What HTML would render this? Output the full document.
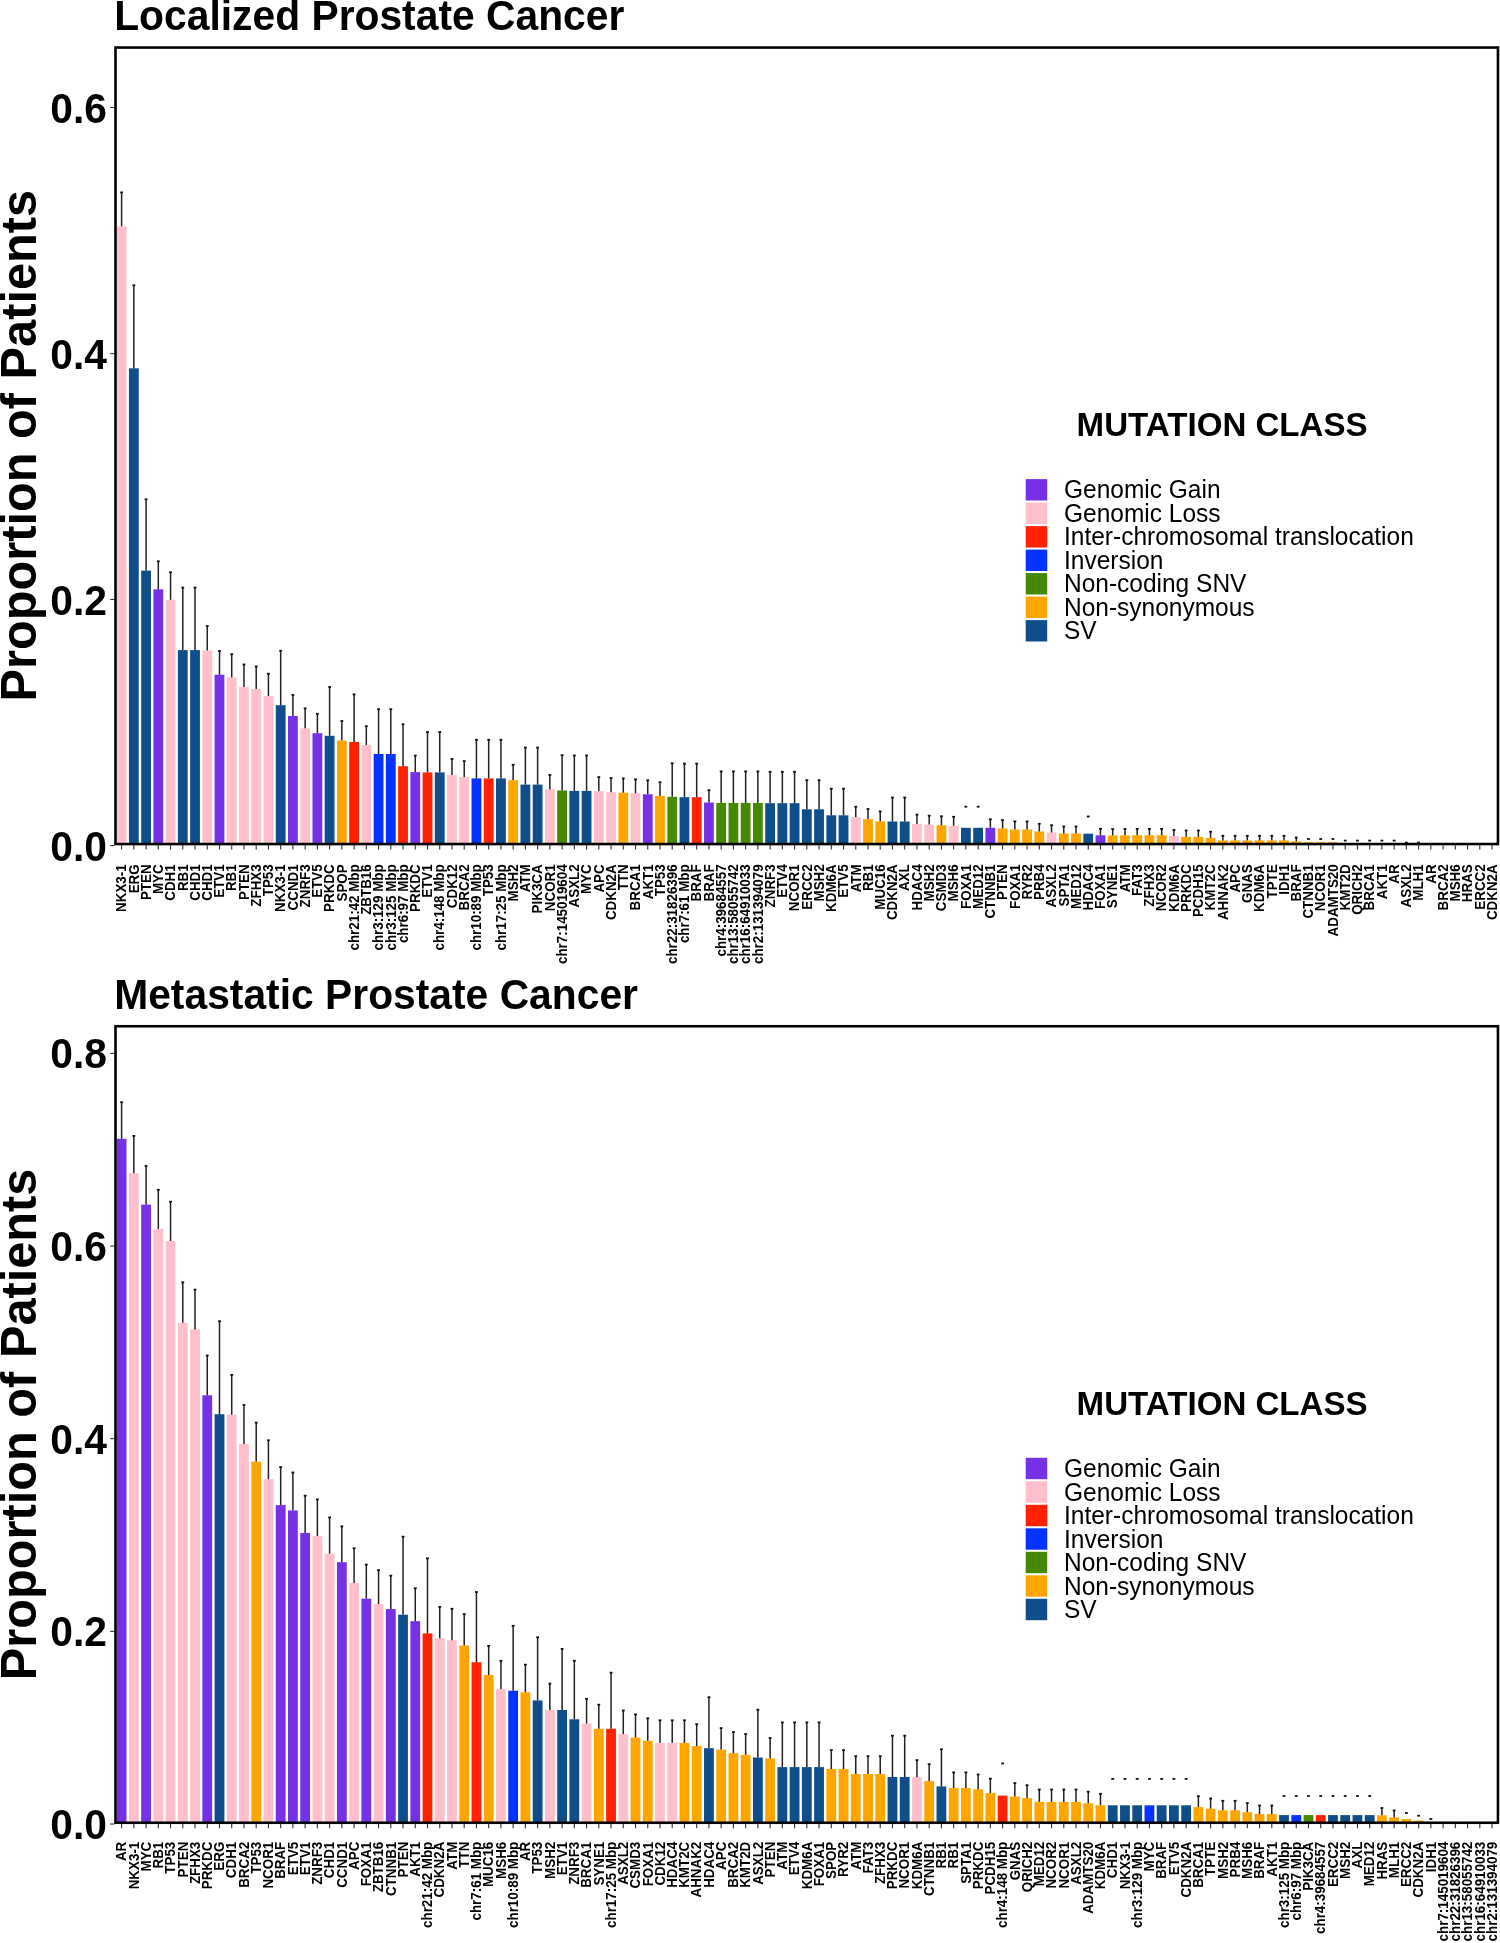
<!DOCTYPE html>
<html><head><meta charset="utf-8"><style>
html,body{margin:0;padding:0;background:#fff;}
svg{display:block;will-change:transform;}
text{font-family:"Liberation Sans",sans-serif;fill:#000;}
.yt{font-size:40.8px;font-weight:bold;}
.xl{font-size:13.4px;font-weight:bold;}
.ti{font-size:40.8px;font-weight:bold;}
.yl{font-size:48.75px;font-weight:bold;}
.lt{font-size:33.1px;font-weight:bold;}
.lg{font-size:24.5px;}
</style></head><body>
<svg width="1500" height="1943" viewBox="0 0 1500 1943">
<rect width="1500" height="1943" fill="#fff"/>
<rect x="116.70" y="226.40" width="9.8" height="617.65" fill="#ffbfcb"/>
<rect x="120.85" y="192.40" width="1.5" height="34.00" fill="#222"/>
<rect x="120.20" y="191.50" width="2.8" height="1.8" fill="#111"/>
<rect x="128.94" y="368.30" width="9.8" height="475.75" fill="#104e8b"/>
<rect x="133.09" y="285.30" width="1.5" height="83.00" fill="#222"/>
<rect x="132.44" y="284.40" width="2.8" height="1.8" fill="#111"/>
<rect x="141.17" y="570.60" width="9.8" height="273.45" fill="#104e8b"/>
<rect x="145.32" y="499.30" width="1.5" height="71.30" fill="#222"/>
<rect x="144.67" y="498.40" width="2.8" height="1.8" fill="#111"/>
<rect x="153.41" y="589.30" width="9.8" height="254.75" fill="#7630e6"/>
<rect x="157.56" y="561.30" width="1.5" height="28.00" fill="#222"/>
<rect x="156.91" y="560.40" width="2.8" height="1.8" fill="#111"/>
<rect x="165.64" y="599.80" width="9.8" height="244.25" fill="#ffbfcb"/>
<rect x="169.79" y="572.30" width="1.5" height="27.50" fill="#222"/>
<rect x="169.14" y="571.40" width="2.8" height="1.8" fill="#111"/>
<rect x="177.88" y="650.10" width="9.8" height="193.95" fill="#104e8b"/>
<rect x="182.03" y="587.60" width="1.5" height="62.50" fill="#222"/>
<rect x="181.38" y="586.70" width="2.8" height="1.8" fill="#111"/>
<rect x="190.12" y="650.10" width="9.8" height="193.95" fill="#104e8b"/>
<rect x="194.27" y="587.60" width="1.5" height="62.50" fill="#222"/>
<rect x="193.62" y="586.70" width="2.8" height="1.8" fill="#111"/>
<rect x="202.35" y="650.50" width="9.8" height="193.55" fill="#ffbfcb"/>
<rect x="206.50" y="626.00" width="1.5" height="24.50" fill="#222"/>
<rect x="205.85" y="625.10" width="2.8" height="1.8" fill="#111"/>
<rect x="214.59" y="674.70" width="9.8" height="169.35" fill="#7630e6"/>
<rect x="218.74" y="651.00" width="1.5" height="23.70" fill="#222"/>
<rect x="218.09" y="650.10" width="2.8" height="1.8" fill="#111"/>
<rect x="226.82" y="677.50" width="9.8" height="166.55" fill="#ffbfcb"/>
<rect x="230.97" y="654.20" width="1.5" height="23.30" fill="#222"/>
<rect x="230.32" y="653.30" width="2.8" height="1.8" fill="#111"/>
<rect x="239.06" y="687.00" width="9.8" height="157.05" fill="#ffbfcb"/>
<rect x="243.21" y="664.50" width="1.5" height="22.50" fill="#222"/>
<rect x="242.56" y="663.60" width="2.8" height="1.8" fill="#111"/>
<rect x="251.30" y="689.00" width="9.8" height="155.05" fill="#ffbfcb"/>
<rect x="255.45" y="666.50" width="1.5" height="22.50" fill="#222"/>
<rect x="254.80" y="665.60" width="2.8" height="1.8" fill="#111"/>
<rect x="263.53" y="696.00" width="9.8" height="148.05" fill="#ffbfcb"/>
<rect x="267.68" y="673.70" width="1.5" height="22.30" fill="#222"/>
<rect x="267.03" y="672.80" width="2.8" height="1.8" fill="#111"/>
<rect x="275.77" y="705.20" width="9.8" height="138.85" fill="#104e8b"/>
<rect x="279.92" y="650.80" width="1.5" height="54.40" fill="#222"/>
<rect x="279.27" y="649.90" width="2.8" height="1.8" fill="#111"/>
<rect x="288.00" y="716.00" width="9.8" height="128.05" fill="#7630e6"/>
<rect x="292.15" y="695.00" width="1.5" height="21.00" fill="#222"/>
<rect x="291.50" y="694.10" width="2.8" height="1.8" fill="#111"/>
<rect x="300.24" y="728.30" width="9.8" height="115.75" fill="#ffbfcb"/>
<rect x="304.39" y="708.40" width="1.5" height="19.90" fill="#222"/>
<rect x="303.74" y="707.50" width="2.8" height="1.8" fill="#111"/>
<rect x="312.48" y="733.20" width="9.8" height="110.85" fill="#7630e6"/>
<rect x="316.63" y="713.80" width="1.5" height="19.40" fill="#222"/>
<rect x="315.98" y="712.90" width="2.8" height="1.8" fill="#111"/>
<rect x="324.71" y="735.80" width="9.8" height="108.25" fill="#104e8b"/>
<rect x="328.86" y="687.00" width="1.5" height="48.80" fill="#222"/>
<rect x="328.21" y="686.10" width="2.8" height="1.8" fill="#111"/>
<rect x="336.95" y="740.50" width="9.8" height="103.55" fill="#ffa500"/>
<rect x="341.10" y="721.00" width="1.5" height="19.50" fill="#222"/>
<rect x="340.45" y="720.10" width="2.8" height="1.8" fill="#111"/>
<rect x="349.18" y="742.00" width="9.8" height="102.05" fill="#ff2200"/>
<rect x="353.33" y="694.40" width="1.5" height="47.60" fill="#222"/>
<rect x="352.68" y="693.50" width="2.8" height="1.8" fill="#111"/>
<rect x="361.42" y="745.00" width="9.8" height="99.05" fill="#ffbfcb"/>
<rect x="365.57" y="726.20" width="1.5" height="18.80" fill="#222"/>
<rect x="364.92" y="725.30" width="2.8" height="1.8" fill="#111"/>
<rect x="373.66" y="754.00" width="9.8" height="90.05" fill="#0433ff"/>
<rect x="377.81" y="709.20" width="1.5" height="44.80" fill="#222"/>
<rect x="377.16" y="708.30" width="2.8" height="1.8" fill="#111"/>
<rect x="385.89" y="754.00" width="9.8" height="90.05" fill="#0433ff"/>
<rect x="390.04" y="709.20" width="1.5" height="44.80" fill="#222"/>
<rect x="389.39" y="708.30" width="2.8" height="1.8" fill="#111"/>
<rect x="398.13" y="766.20" width="9.8" height="77.85" fill="#ff2200"/>
<rect x="402.28" y="724.30" width="1.5" height="41.90" fill="#222"/>
<rect x="401.63" y="723.40" width="2.8" height="1.8" fill="#111"/>
<rect x="410.36" y="772.10" width="9.8" height="71.95" fill="#7630e6"/>
<rect x="414.51" y="755.60" width="1.5" height="16.50" fill="#222"/>
<rect x="413.86" y="754.70" width="2.8" height="1.8" fill="#111"/>
<rect x="422.60" y="772.40" width="9.8" height="71.65" fill="#ff2200"/>
<rect x="426.75" y="732.00" width="1.5" height="40.40" fill="#222"/>
<rect x="426.10" y="731.10" width="2.8" height="1.8" fill="#111"/>
<rect x="434.84" y="772.40" width="9.8" height="71.65" fill="#104e8b"/>
<rect x="438.99" y="732.00" width="1.5" height="40.40" fill="#222"/>
<rect x="438.34" y="731.10" width="2.8" height="1.8" fill="#111"/>
<rect x="447.07" y="775.00" width="9.8" height="69.05" fill="#ffbfcb"/>
<rect x="451.22" y="758.90" width="1.5" height="16.10" fill="#222"/>
<rect x="450.57" y="758.00" width="2.8" height="1.8" fill="#111"/>
<rect x="459.31" y="777.00" width="9.8" height="67.05" fill="#ffbfcb"/>
<rect x="463.46" y="761.10" width="1.5" height="15.90" fill="#222"/>
<rect x="462.81" y="760.20" width="2.8" height="1.8" fill="#111"/>
<rect x="471.54" y="778.40" width="9.8" height="65.65" fill="#0433ff"/>
<rect x="475.69" y="739.80" width="1.5" height="38.60" fill="#222"/>
<rect x="475.04" y="738.90" width="2.8" height="1.8" fill="#111"/>
<rect x="483.78" y="778.40" width="9.8" height="65.65" fill="#ff2200"/>
<rect x="487.93" y="739.80" width="1.5" height="38.60" fill="#222"/>
<rect x="487.28" y="738.90" width="2.8" height="1.8" fill="#111"/>
<rect x="496.02" y="778.40" width="9.8" height="65.65" fill="#104e8b"/>
<rect x="500.17" y="739.80" width="1.5" height="38.60" fill="#222"/>
<rect x="499.52" y="738.90" width="2.8" height="1.8" fill="#111"/>
<rect x="508.25" y="780.20" width="9.8" height="63.85" fill="#ffa500"/>
<rect x="512.40" y="764.80" width="1.5" height="15.40" fill="#222"/>
<rect x="511.75" y="763.90" width="2.8" height="1.8" fill="#111"/>
<rect x="520.49" y="784.60" width="9.8" height="59.45" fill="#104e8b"/>
<rect x="524.64" y="747.60" width="1.5" height="37.00" fill="#222"/>
<rect x="523.99" y="746.70" width="2.8" height="1.8" fill="#111"/>
<rect x="532.72" y="784.60" width="9.8" height="59.45" fill="#104e8b"/>
<rect x="536.87" y="747.60" width="1.5" height="37.00" fill="#222"/>
<rect x="536.22" y="746.70" width="2.8" height="1.8" fill="#111"/>
<rect x="544.96" y="789.30" width="9.8" height="54.75" fill="#ffbfcb"/>
<rect x="549.11" y="774.90" width="1.5" height="14.40" fill="#222"/>
<rect x="548.46" y="774.00" width="2.8" height="1.8" fill="#111"/>
<rect x="557.20" y="790.50" width="9.8" height="53.55" fill="#458900"/>
<rect x="561.35" y="755.20" width="1.5" height="35.30" fill="#222"/>
<rect x="560.70" y="754.30" width="2.8" height="1.8" fill="#111"/>
<rect x="569.43" y="790.90" width="9.8" height="53.15" fill="#104e8b"/>
<rect x="573.58" y="755.50" width="1.5" height="35.40" fill="#222"/>
<rect x="572.93" y="754.60" width="2.8" height="1.8" fill="#111"/>
<rect x="581.67" y="790.90" width="9.8" height="53.15" fill="#104e8b"/>
<rect x="585.82" y="755.50" width="1.5" height="35.40" fill="#222"/>
<rect x="585.17" y="754.60" width="2.8" height="1.8" fill="#111"/>
<rect x="593.90" y="791.20" width="9.8" height="52.85" fill="#ffbfcb"/>
<rect x="598.05" y="777.10" width="1.5" height="14.10" fill="#222"/>
<rect x="597.40" y="776.20" width="2.8" height="1.8" fill="#111"/>
<rect x="606.14" y="792.20" width="9.8" height="51.85" fill="#ffbfcb"/>
<rect x="610.29" y="778.00" width="1.5" height="14.20" fill="#222"/>
<rect x="609.64" y="777.10" width="2.8" height="1.8" fill="#111"/>
<rect x="618.38" y="792.70" width="9.8" height="51.35" fill="#ffa500"/>
<rect x="622.53" y="778.50" width="1.5" height="14.20" fill="#222"/>
<rect x="621.88" y="777.60" width="2.8" height="1.8" fill="#111"/>
<rect x="630.61" y="793.20" width="9.8" height="50.85" fill="#ffbfcb"/>
<rect x="634.76" y="779.40" width="1.5" height="13.80" fill="#222"/>
<rect x="634.11" y="778.50" width="2.8" height="1.8" fill="#111"/>
<rect x="642.85" y="794.30" width="9.8" height="49.75" fill="#7630e6"/>
<rect x="647.00" y="780.30" width="1.5" height="14.00" fill="#222"/>
<rect x="646.35" y="779.40" width="2.8" height="1.8" fill="#111"/>
<rect x="655.08" y="795.90" width="9.8" height="48.15" fill="#ffa500"/>
<rect x="659.23" y="782.20" width="1.5" height="13.70" fill="#222"/>
<rect x="658.58" y="781.30" width="2.8" height="1.8" fill="#111"/>
<rect x="667.32" y="796.80" width="9.8" height="47.25" fill="#458900"/>
<rect x="671.47" y="763.30" width="1.5" height="33.50" fill="#222"/>
<rect x="670.82" y="762.40" width="2.8" height="1.8" fill="#111"/>
<rect x="679.56" y="797.20" width="9.8" height="46.85" fill="#104e8b"/>
<rect x="683.71" y="763.60" width="1.5" height="33.60" fill="#222"/>
<rect x="683.06" y="762.70" width="2.8" height="1.8" fill="#111"/>
<rect x="691.79" y="797.20" width="9.8" height="46.85" fill="#ff2200"/>
<rect x="695.94" y="763.60" width="1.5" height="33.60" fill="#222"/>
<rect x="695.29" y="762.70" width="2.8" height="1.8" fill="#111"/>
<rect x="704.03" y="802.50" width="9.8" height="41.55" fill="#7630e6"/>
<rect x="708.18" y="790.20" width="1.5" height="12.30" fill="#222"/>
<rect x="707.53" y="789.30" width="2.8" height="1.8" fill="#111"/>
<rect x="716.26" y="802.90" width="9.8" height="41.15" fill="#458900"/>
<rect x="720.41" y="771.40" width="1.5" height="31.50" fill="#222"/>
<rect x="719.76" y="770.50" width="2.8" height="1.8" fill="#111"/>
<rect x="728.50" y="802.90" width="9.8" height="41.15" fill="#458900"/>
<rect x="732.65" y="771.40" width="1.5" height="31.50" fill="#222"/>
<rect x="732.00" y="770.50" width="2.8" height="1.8" fill="#111"/>
<rect x="740.74" y="802.90" width="9.8" height="41.15" fill="#458900"/>
<rect x="744.89" y="771.40" width="1.5" height="31.50" fill="#222"/>
<rect x="744.24" y="770.50" width="2.8" height="1.8" fill="#111"/>
<rect x="752.97" y="802.90" width="9.8" height="41.15" fill="#458900"/>
<rect x="757.12" y="771.40" width="1.5" height="31.50" fill="#222"/>
<rect x="756.47" y="770.50" width="2.8" height="1.8" fill="#111"/>
<rect x="765.21" y="803.20" width="9.8" height="40.85" fill="#104e8b"/>
<rect x="769.36" y="771.80" width="1.5" height="31.40" fill="#222"/>
<rect x="768.71" y="770.90" width="2.8" height="1.8" fill="#111"/>
<rect x="777.44" y="803.20" width="9.8" height="40.85" fill="#104e8b"/>
<rect x="781.59" y="771.80" width="1.5" height="31.40" fill="#222"/>
<rect x="780.94" y="770.90" width="2.8" height="1.8" fill="#111"/>
<rect x="789.68" y="803.20" width="9.8" height="40.85" fill="#104e8b"/>
<rect x="793.83" y="771.80" width="1.5" height="31.40" fill="#222"/>
<rect x="793.18" y="770.90" width="2.8" height="1.8" fill="#111"/>
<rect x="801.92" y="809.30" width="9.8" height="34.75" fill="#104e8b"/>
<rect x="806.07" y="780.20" width="1.5" height="29.10" fill="#222"/>
<rect x="805.42" y="779.30" width="2.8" height="1.8" fill="#111"/>
<rect x="814.15" y="809.30" width="9.8" height="34.75" fill="#104e8b"/>
<rect x="818.30" y="780.20" width="1.5" height="29.10" fill="#222"/>
<rect x="817.65" y="779.30" width="2.8" height="1.8" fill="#111"/>
<rect x="826.39" y="815.30" width="9.8" height="28.75" fill="#104e8b"/>
<rect x="830.54" y="788.70" width="1.5" height="26.60" fill="#222"/>
<rect x="829.89" y="787.80" width="2.8" height="1.8" fill="#111"/>
<rect x="838.62" y="815.30" width="9.8" height="28.75" fill="#104e8b"/>
<rect x="842.77" y="788.70" width="1.5" height="26.60" fill="#222"/>
<rect x="842.12" y="787.80" width="2.8" height="1.8" fill="#111"/>
<rect x="850.86" y="817.10" width="9.8" height="26.95" fill="#ffbfcb"/>
<rect x="855.01" y="806.70" width="1.5" height="10.40" fill="#222"/>
<rect x="854.36" y="805.80" width="2.8" height="1.8" fill="#111"/>
<rect x="863.10" y="819.10" width="9.8" height="24.95" fill="#ffa500"/>
<rect x="867.25" y="809.00" width="1.5" height="10.10" fill="#222"/>
<rect x="866.60" y="808.10" width="2.8" height="1.8" fill="#111"/>
<rect x="875.33" y="821.30" width="9.8" height="22.75" fill="#ffa500"/>
<rect x="879.48" y="811.40" width="1.5" height="9.90" fill="#222"/>
<rect x="878.83" y="810.50" width="2.8" height="1.8" fill="#111"/>
<rect x="887.57" y="821.50" width="9.8" height="22.55" fill="#104e8b"/>
<rect x="891.72" y="797.50" width="1.5" height="24.00" fill="#222"/>
<rect x="891.07" y="796.60" width="2.8" height="1.8" fill="#111"/>
<rect x="899.80" y="821.50" width="9.8" height="22.55" fill="#104e8b"/>
<rect x="903.95" y="797.50" width="1.5" height="24.00" fill="#222"/>
<rect x="903.30" y="796.60" width="2.8" height="1.8" fill="#111"/>
<rect x="912.04" y="823.90" width="9.8" height="20.15" fill="#ffbfcb"/>
<rect x="916.19" y="814.60" width="1.5" height="9.30" fill="#222"/>
<rect x="915.54" y="813.70" width="2.8" height="1.8" fill="#111"/>
<rect x="924.28" y="824.60" width="9.8" height="19.45" fill="#ffbfcb"/>
<rect x="928.43" y="815.70" width="1.5" height="8.90" fill="#222"/>
<rect x="927.78" y="814.80" width="2.8" height="1.8" fill="#111"/>
<rect x="936.51" y="825.30" width="9.8" height="18.75" fill="#ffa500"/>
<rect x="940.66" y="816.30" width="1.5" height="9.00" fill="#222"/>
<rect x="940.01" y="815.40" width="2.8" height="1.8" fill="#111"/>
<rect x="948.75" y="825.90" width="9.8" height="18.15" fill="#ffbfcb"/>
<rect x="952.90" y="816.80" width="1.5" height="9.10" fill="#222"/>
<rect x="952.25" y="815.90" width="2.8" height="1.8" fill="#111"/>
<rect x="960.98" y="827.80" width="9.8" height="16.25" fill="#104e8b"/>
<rect x="964.48" y="805.80" width="2.8" height="1.8" fill="#111"/>
<rect x="973.22" y="827.80" width="9.8" height="16.25" fill="#104e8b"/>
<rect x="976.72" y="805.80" width="2.8" height="1.8" fill="#111"/>
<rect x="985.46" y="827.80" width="9.8" height="16.25" fill="#7630e6"/>
<rect x="989.61" y="819.30" width="1.5" height="8.50" fill="#222"/>
<rect x="988.96" y="818.40" width="2.8" height="1.8" fill="#111"/>
<rect x="997.69" y="828.50" width="9.8" height="15.55" fill="#ffa500"/>
<rect x="1001.84" y="820.10" width="1.5" height="8.40" fill="#222"/>
<rect x="1001.19" y="819.20" width="2.8" height="1.8" fill="#111"/>
<rect x="1009.93" y="829.50" width="9.8" height="14.55" fill="#ffa500"/>
<rect x="1014.08" y="821.40" width="1.5" height="8.10" fill="#222"/>
<rect x="1013.43" y="820.50" width="2.8" height="1.8" fill="#111"/>
<rect x="1022.16" y="829.50" width="9.8" height="14.55" fill="#ffa500"/>
<rect x="1026.31" y="821.40" width="1.5" height="8.10" fill="#222"/>
<rect x="1025.66" y="820.50" width="2.8" height="1.8" fill="#111"/>
<rect x="1034.40" y="831.50" width="9.8" height="12.55" fill="#ffa500"/>
<rect x="1038.55" y="823.80" width="1.5" height="7.70" fill="#222"/>
<rect x="1037.90" y="822.90" width="2.8" height="1.8" fill="#111"/>
<rect x="1046.64" y="832.50" width="9.8" height="11.55" fill="#ffbfcb"/>
<rect x="1050.79" y="825.20" width="1.5" height="7.30" fill="#222"/>
<rect x="1050.14" y="824.30" width="2.8" height="1.8" fill="#111"/>
<rect x="1058.87" y="833.50" width="9.8" height="10.55" fill="#ffa500"/>
<rect x="1063.02" y="826.50" width="1.5" height="7.00" fill="#222"/>
<rect x="1062.37" y="825.60" width="2.8" height="1.8" fill="#111"/>
<rect x="1071.11" y="833.50" width="9.8" height="10.55" fill="#ffa500"/>
<rect x="1075.26" y="826.50" width="1.5" height="7.00" fill="#222"/>
<rect x="1074.61" y="825.60" width="2.8" height="1.8" fill="#111"/>
<rect x="1083.34" y="833.70" width="9.8" height="10.35" fill="#104e8b"/>
<rect x="1086.84" y="815.60" width="2.8" height="1.8" fill="#111"/>
<rect x="1095.58" y="835.30" width="9.8" height="8.75" fill="#7630e6"/>
<rect x="1099.73" y="828.80" width="1.5" height="6.50" fill="#222"/>
<rect x="1099.08" y="827.90" width="2.8" height="1.8" fill="#111"/>
<rect x="1107.82" y="835.40" width="9.8" height="8.65" fill="#ffa500"/>
<rect x="1111.97" y="829.10" width="1.5" height="6.30" fill="#222"/>
<rect x="1111.32" y="828.20" width="2.8" height="1.8" fill="#111"/>
<rect x="1120.05" y="835.30" width="9.8" height="8.75" fill="#ffa500"/>
<rect x="1124.20" y="829.00" width="1.5" height="6.30" fill="#222"/>
<rect x="1123.55" y="828.10" width="2.8" height="1.8" fill="#111"/>
<rect x="1132.29" y="835.20" width="9.8" height="8.85" fill="#ffa500"/>
<rect x="1136.44" y="828.90" width="1.5" height="6.30" fill="#222"/>
<rect x="1135.79" y="828.00" width="2.8" height="1.8" fill="#111"/>
<rect x="1144.52" y="835.20" width="9.8" height="8.85" fill="#ffa500"/>
<rect x="1148.67" y="828.90" width="1.5" height="6.30" fill="#222"/>
<rect x="1148.02" y="828.00" width="2.8" height="1.8" fill="#111"/>
<rect x="1156.76" y="835.20" width="9.8" height="8.85" fill="#ffa500"/>
<rect x="1160.91" y="828.90" width="1.5" height="6.30" fill="#222"/>
<rect x="1160.26" y="828.00" width="2.8" height="1.8" fill="#111"/>
<rect x="1169.00" y="836.10" width="9.8" height="7.95" fill="#ffbfcb"/>
<rect x="1173.15" y="830.00" width="1.5" height="6.10" fill="#222"/>
<rect x="1172.50" y="829.10" width="2.8" height="1.8" fill="#111"/>
<rect x="1181.23" y="836.90" width="9.8" height="7.15" fill="#ffa500"/>
<rect x="1185.38" y="830.50" width="1.5" height="6.40" fill="#222"/>
<rect x="1184.73" y="829.60" width="2.8" height="1.8" fill="#111"/>
<rect x="1193.47" y="836.90" width="9.8" height="7.15" fill="#ffa500"/>
<rect x="1197.62" y="830.50" width="1.5" height="6.40" fill="#222"/>
<rect x="1196.97" y="829.60" width="2.8" height="1.8" fill="#111"/>
<rect x="1205.70" y="837.90" width="9.8" height="6.15" fill="#ffa500"/>
<rect x="1209.85" y="831.70" width="1.5" height="6.20" fill="#222"/>
<rect x="1209.20" y="830.80" width="2.8" height="1.8" fill="#111"/>
<rect x="1217.94" y="840.40" width="9.8" height="3.65" fill="#ffa500"/>
<rect x="1222.09" y="835.80" width="1.5" height="4.60" fill="#222"/>
<rect x="1221.44" y="834.90" width="2.8" height="1.8" fill="#111"/>
<rect x="1230.18" y="840.40" width="9.8" height="3.65" fill="#ffa500"/>
<rect x="1234.33" y="835.80" width="1.5" height="4.60" fill="#222"/>
<rect x="1233.68" y="834.90" width="2.8" height="1.8" fill="#111"/>
<rect x="1242.41" y="840.40" width="9.8" height="3.65" fill="#ffa500"/>
<rect x="1246.56" y="835.80" width="1.5" height="4.60" fill="#222"/>
<rect x="1245.91" y="834.90" width="2.8" height="1.8" fill="#111"/>
<rect x="1254.65" y="840.40" width="9.8" height="3.65" fill="#ffa500"/>
<rect x="1258.80" y="835.80" width="1.5" height="4.60" fill="#222"/>
<rect x="1258.15" y="834.90" width="2.8" height="1.8" fill="#111"/>
<rect x="1266.88" y="840.40" width="9.8" height="3.65" fill="#ffa500"/>
<rect x="1271.03" y="835.80" width="1.5" height="4.60" fill="#222"/>
<rect x="1270.38" y="834.90" width="2.8" height="1.8" fill="#111"/>
<rect x="1279.12" y="840.40" width="9.8" height="3.65" fill="#ffa500"/>
<rect x="1283.27" y="835.80" width="1.5" height="4.60" fill="#222"/>
<rect x="1282.62" y="834.90" width="2.8" height="1.8" fill="#111"/>
<rect x="1291.36" y="841.30" width="9.8" height="2.75" fill="#ffa500"/>
<rect x="1295.51" y="837.50" width="1.5" height="3.80" fill="#222"/>
<rect x="1294.86" y="836.60" width="2.8" height="1.8" fill="#111"/>
<rect x="1303.59" y="842.20" width="9.8" height="1.85" fill="#ffa500"/>
<rect x="1307.09" y="838.10" width="2.8" height="1.8" fill="#111"/>
<rect x="1315.83" y="842.20" width="9.8" height="1.85" fill="#ffa500"/>
<rect x="1319.33" y="838.10" width="2.8" height="1.8" fill="#111"/>
<rect x="1328.06" y="842.20" width="9.8" height="1.85" fill="#ffa500"/>
<rect x="1331.56" y="838.10" width="2.8" height="1.8" fill="#111"/>
<rect x="1343.80" y="839.70" width="2.8" height="1.8" fill="#111"/>
<rect x="1356.04" y="839.70" width="2.8" height="1.8" fill="#111"/>
<rect x="1368.27" y="839.70" width="2.8" height="1.8" fill="#111"/>
<rect x="1380.51" y="839.70" width="2.8" height="1.8" fill="#111"/>
<rect x="1392.74" y="839.70" width="2.8" height="1.8" fill="#111"/>
<rect x="1404.98" y="841.70" width="2.8" height="1.8" fill="#111"/>
<rect x="1417.22" y="841.70" width="2.8" height="1.8" fill="#111"/>
<rect x="115.5" y="47.55" width="1382.45" height="796.50" fill="none" stroke="#000" stroke-width="2.6"/>
<rect x="110.2" y="106.95" width="4.2" height="1.1" fill="#333"/>
<text transform="translate(107,122.50) scale(1,1.055)" text-anchor="end" class="yt">0.6</text>
<rect x="110.2" y="353.05" width="4.2" height="1.1" fill="#333"/>
<text transform="translate(107,368.60) scale(1,1.055)" text-anchor="end" class="yt">0.4</text>
<rect x="110.2" y="598.95" width="4.2" height="1.1" fill="#333"/>
<text transform="translate(107,614.50) scale(1,1.055)" text-anchor="end" class="yt">0.2</text>
<rect x="110.2" y="845.05" width="4.2" height="1.1" fill="#333"/>
<text transform="translate(107,860.60) scale(1,1.055)" text-anchor="end" class="yt">0.0</text>
<rect x="121.05" y="845.05" width="1.1" height="4.5" fill="#333"/>
<text transform="translate(126.35,864.30) rotate(-90) scale(1,1.05)" text-anchor="end" class="xl">NKX3-1</text>
<rect x="133.29" y="845.05" width="1.1" height="4.5" fill="#333"/>
<text transform="translate(138.59,864.30) rotate(-90) scale(1,1.05)" text-anchor="end" class="xl">ERG</text>
<rect x="145.52" y="845.05" width="1.1" height="4.5" fill="#333"/>
<text transform="translate(150.82,864.30) rotate(-90) scale(1,1.05)" text-anchor="end" class="xl">PTEN</text>
<rect x="157.76" y="845.05" width="1.1" height="4.5" fill="#333"/>
<text transform="translate(163.06,864.30) rotate(-90) scale(1,1.05)" text-anchor="end" class="xl">MYC</text>
<rect x="169.99" y="845.05" width="1.1" height="4.5" fill="#333"/>
<text transform="translate(175.29,864.30) rotate(-90) scale(1,1.05)" text-anchor="end" class="xl">CDH1</text>
<rect x="182.23" y="845.05" width="1.1" height="4.5" fill="#333"/>
<text transform="translate(187.53,864.30) rotate(-90) scale(1,1.05)" text-anchor="end" class="xl">RB1</text>
<rect x="194.47" y="845.05" width="1.1" height="4.5" fill="#333"/>
<text transform="translate(199.77,864.30) rotate(-90) scale(1,1.05)" text-anchor="end" class="xl">CHD1</text>
<rect x="206.70" y="845.05" width="1.1" height="4.5" fill="#333"/>
<text transform="translate(212.00,864.30) rotate(-90) scale(1,1.05)" text-anchor="end" class="xl">CHD1</text>
<rect x="218.94" y="845.05" width="1.1" height="4.5" fill="#333"/>
<text transform="translate(224.24,864.30) rotate(-90) scale(1,1.05)" text-anchor="end" class="xl">ETV1</text>
<rect x="231.17" y="845.05" width="1.1" height="4.5" fill="#333"/>
<text transform="translate(236.47,864.30) rotate(-90) scale(1,1.05)" text-anchor="end" class="xl">RB1</text>
<rect x="243.41" y="845.05" width="1.1" height="4.5" fill="#333"/>
<text transform="translate(248.71,864.30) rotate(-90) scale(1,1.05)" text-anchor="end" class="xl">PTEN</text>
<rect x="255.65" y="845.05" width="1.1" height="4.5" fill="#333"/>
<text transform="translate(260.95,864.30) rotate(-90) scale(1,1.05)" text-anchor="end" class="xl">ZFHX3</text>
<rect x="267.88" y="845.05" width="1.1" height="4.5" fill="#333"/>
<text transform="translate(273.18,864.30) rotate(-90) scale(1,1.05)" text-anchor="end" class="xl">TP53</text>
<rect x="280.12" y="845.05" width="1.1" height="4.5" fill="#333"/>
<text transform="translate(285.42,864.30) rotate(-90) scale(1,1.05)" text-anchor="end" class="xl">NKX3-1</text>
<rect x="292.35" y="845.05" width="1.1" height="4.5" fill="#333"/>
<text transform="translate(297.65,864.30) rotate(-90) scale(1,1.05)" text-anchor="end" class="xl">CCND1</text>
<rect x="304.59" y="845.05" width="1.1" height="4.5" fill="#333"/>
<text transform="translate(309.89,864.30) rotate(-90) scale(1,1.05)" text-anchor="end" class="xl">ZNRF3</text>
<rect x="316.83" y="845.05" width="1.1" height="4.5" fill="#333"/>
<text transform="translate(322.13,864.30) rotate(-90) scale(1,1.05)" text-anchor="end" class="xl">ETV5</text>
<rect x="329.06" y="845.05" width="1.1" height="4.5" fill="#333"/>
<text transform="translate(334.36,864.30) rotate(-90) scale(1,1.05)" text-anchor="end" class="xl">PRKDC</text>
<rect x="341.30" y="845.05" width="1.1" height="4.5" fill="#333"/>
<text transform="translate(346.60,864.30) rotate(-90) scale(1,1.05)" text-anchor="end" class="xl">SPOP</text>
<rect x="353.53" y="845.05" width="1.1" height="4.5" fill="#333"/>
<text transform="translate(358.83,864.30) rotate(-90) scale(1,1.05)" text-anchor="end" class="xl">chr21:42 Mbp</text>
<rect x="365.77" y="845.05" width="1.1" height="4.5" fill="#333"/>
<text transform="translate(371.07,864.30) rotate(-90) scale(1,1.05)" text-anchor="end" class="xl">ZBTB16</text>
<rect x="378.01" y="845.05" width="1.1" height="4.5" fill="#333"/>
<text transform="translate(383.31,864.30) rotate(-90) scale(1,1.05)" text-anchor="end" class="xl">chr3:129 Mbp</text>
<rect x="390.24" y="845.05" width="1.1" height="4.5" fill="#333"/>
<text transform="translate(395.54,864.30) rotate(-90) scale(1,1.05)" text-anchor="end" class="xl">chr3:125 Mbp</text>
<rect x="402.48" y="845.05" width="1.1" height="4.5" fill="#333"/>
<text transform="translate(407.78,864.30) rotate(-90) scale(1,1.05)" text-anchor="end" class="xl">chr6:97 Mbp</text>
<rect x="414.71" y="845.05" width="1.1" height="4.5" fill="#333"/>
<text transform="translate(420.01,864.30) rotate(-90) scale(1,1.05)" text-anchor="end" class="xl">PRKDC</text>
<rect x="426.95" y="845.05" width="1.1" height="4.5" fill="#333"/>
<text transform="translate(432.25,864.30) rotate(-90) scale(1,1.05)" text-anchor="end" class="xl">ETV1</text>
<rect x="439.19" y="845.05" width="1.1" height="4.5" fill="#333"/>
<text transform="translate(444.49,864.30) rotate(-90) scale(1,1.05)" text-anchor="end" class="xl">chr4:148 Mbp</text>
<rect x="451.42" y="845.05" width="1.1" height="4.5" fill="#333"/>
<text transform="translate(456.72,864.30) rotate(-90) scale(1,1.05)" text-anchor="end" class="xl">CDK12</text>
<rect x="463.66" y="845.05" width="1.1" height="4.5" fill="#333"/>
<text transform="translate(468.96,864.30) rotate(-90) scale(1,1.05)" text-anchor="end" class="xl">BRCA2</text>
<rect x="475.89" y="845.05" width="1.1" height="4.5" fill="#333"/>
<text transform="translate(481.19,864.30) rotate(-90) scale(1,1.05)" text-anchor="end" class="xl">chr10:89 Mbp</text>
<rect x="488.13" y="845.05" width="1.1" height="4.5" fill="#333"/>
<text transform="translate(493.43,864.30) rotate(-90) scale(1,1.05)" text-anchor="end" class="xl">TP53</text>
<rect x="500.37" y="845.05" width="1.1" height="4.5" fill="#333"/>
<text transform="translate(505.67,864.30) rotate(-90) scale(1,1.05)" text-anchor="end" class="xl">chr17:25 Mbp</text>
<rect x="512.60" y="845.05" width="1.1" height="4.5" fill="#333"/>
<text transform="translate(517.90,864.30) rotate(-90) scale(1,1.05)" text-anchor="end" class="xl">MSH2</text>
<rect x="524.84" y="845.05" width="1.1" height="4.5" fill="#333"/>
<text transform="translate(530.14,864.30) rotate(-90) scale(1,1.05)" text-anchor="end" class="xl">ATM</text>
<rect x="537.07" y="845.05" width="1.1" height="4.5" fill="#333"/>
<text transform="translate(542.37,864.30) rotate(-90) scale(1,1.05)" text-anchor="end" class="xl">PIK3CA</text>
<rect x="549.31" y="845.05" width="1.1" height="4.5" fill="#333"/>
<text transform="translate(554.61,864.30) rotate(-90) scale(1,1.05)" text-anchor="end" class="xl">NCOR1</text>
<rect x="561.55" y="845.05" width="1.1" height="4.5" fill="#333"/>
<text transform="translate(566.85,864.30) rotate(-90) scale(1,1.05)" text-anchor="end" class="xl">chr7:145019604</text>
<rect x="573.78" y="845.05" width="1.1" height="4.5" fill="#333"/>
<text transform="translate(579.08,864.30) rotate(-90) scale(1,1.05)" text-anchor="end" class="xl">ASXL2</text>
<rect x="586.02" y="845.05" width="1.1" height="4.5" fill="#333"/>
<text transform="translate(591.32,864.30) rotate(-90) scale(1,1.05)" text-anchor="end" class="xl">MYC</text>
<rect x="598.25" y="845.05" width="1.1" height="4.5" fill="#333"/>
<text transform="translate(603.55,864.30) rotate(-90) scale(1,1.05)" text-anchor="end" class="xl">APC</text>
<rect x="610.49" y="845.05" width="1.1" height="4.5" fill="#333"/>
<text transform="translate(615.79,864.30) rotate(-90) scale(1,1.05)" text-anchor="end" class="xl">CDKN2A</text>
<rect x="622.73" y="845.05" width="1.1" height="4.5" fill="#333"/>
<text transform="translate(628.03,864.30) rotate(-90) scale(1,1.05)" text-anchor="end" class="xl">TTN</text>
<rect x="634.96" y="845.05" width="1.1" height="4.5" fill="#333"/>
<text transform="translate(640.26,864.30) rotate(-90) scale(1,1.05)" text-anchor="end" class="xl">BRCA1</text>
<rect x="647.20" y="845.05" width="1.1" height="4.5" fill="#333"/>
<text transform="translate(652.50,864.30) rotate(-90) scale(1,1.05)" text-anchor="end" class="xl">AKT1</text>
<rect x="659.43" y="845.05" width="1.1" height="4.5" fill="#333"/>
<text transform="translate(664.73,864.30) rotate(-90) scale(1,1.05)" text-anchor="end" class="xl">TP53</text>
<rect x="671.67" y="845.05" width="1.1" height="4.5" fill="#333"/>
<text transform="translate(676.97,864.30) rotate(-90) scale(1,1.05)" text-anchor="end" class="xl">chr22:31826396</text>
<rect x="683.91" y="845.05" width="1.1" height="4.5" fill="#333"/>
<text transform="translate(689.21,864.30) rotate(-90) scale(1,1.05)" text-anchor="end" class="xl">chr7:61 Mbp</text>
<rect x="696.14" y="845.05" width="1.1" height="4.5" fill="#333"/>
<text transform="translate(701.44,864.30) rotate(-90) scale(1,1.05)" text-anchor="end" class="xl">BRAF</text>
<rect x="708.38" y="845.05" width="1.1" height="4.5" fill="#333"/>
<text transform="translate(713.68,864.30) rotate(-90) scale(1,1.05)" text-anchor="end" class="xl">BRAF</text>
<rect x="720.61" y="845.05" width="1.1" height="4.5" fill="#333"/>
<text transform="translate(725.91,864.30) rotate(-90) scale(1,1.05)" text-anchor="end" class="xl">chr4:39684557</text>
<rect x="732.85" y="845.05" width="1.1" height="4.5" fill="#333"/>
<text transform="translate(738.15,864.30) rotate(-90) scale(1,1.05)" text-anchor="end" class="xl">chr13:58055742</text>
<rect x="745.09" y="845.05" width="1.1" height="4.5" fill="#333"/>
<text transform="translate(750.39,864.30) rotate(-90) scale(1,1.05)" text-anchor="end" class="xl">chr16:64910033</text>
<rect x="757.32" y="845.05" width="1.1" height="4.5" fill="#333"/>
<text transform="translate(762.62,864.30) rotate(-90) scale(1,1.05)" text-anchor="end" class="xl">chr2:131394079</text>
<rect x="769.56" y="845.05" width="1.1" height="4.5" fill="#333"/>
<text transform="translate(774.86,864.30) rotate(-90) scale(1,1.05)" text-anchor="end" class="xl">ZNRF3</text>
<rect x="781.79" y="845.05" width="1.1" height="4.5" fill="#333"/>
<text transform="translate(787.09,864.30) rotate(-90) scale(1,1.05)" text-anchor="end" class="xl">ETV4</text>
<rect x="794.03" y="845.05" width="1.1" height="4.5" fill="#333"/>
<text transform="translate(799.33,864.30) rotate(-90) scale(1,1.05)" text-anchor="end" class="xl">NCOR1</text>
<rect x="806.27" y="845.05" width="1.1" height="4.5" fill="#333"/>
<text transform="translate(811.57,864.30) rotate(-90) scale(1,1.05)" text-anchor="end" class="xl">ERCC2</text>
<rect x="818.50" y="845.05" width="1.1" height="4.5" fill="#333"/>
<text transform="translate(823.80,864.30) rotate(-90) scale(1,1.05)" text-anchor="end" class="xl">MSH2</text>
<rect x="830.74" y="845.05" width="1.1" height="4.5" fill="#333"/>
<text transform="translate(836.04,864.30) rotate(-90) scale(1,1.05)" text-anchor="end" class="xl">KDM6A</text>
<rect x="842.97" y="845.05" width="1.1" height="4.5" fill="#333"/>
<text transform="translate(848.27,864.30) rotate(-90) scale(1,1.05)" text-anchor="end" class="xl">ETV5</text>
<rect x="855.21" y="845.05" width="1.1" height="4.5" fill="#333"/>
<text transform="translate(860.51,864.30) rotate(-90) scale(1,1.05)" text-anchor="end" class="xl">ATM</text>
<rect x="867.45" y="845.05" width="1.1" height="4.5" fill="#333"/>
<text transform="translate(872.75,864.30) rotate(-90) scale(1,1.05)" text-anchor="end" class="xl">RB1</text>
<rect x="879.68" y="845.05" width="1.1" height="4.5" fill="#333"/>
<text transform="translate(884.98,864.30) rotate(-90) scale(1,1.05)" text-anchor="end" class="xl">MUC16</text>
<rect x="891.92" y="845.05" width="1.1" height="4.5" fill="#333"/>
<text transform="translate(897.22,864.30) rotate(-90) scale(1,1.05)" text-anchor="end" class="xl">CDKN2A</text>
<rect x="904.15" y="845.05" width="1.1" height="4.5" fill="#333"/>
<text transform="translate(909.45,864.30) rotate(-90) scale(1,1.05)" text-anchor="end" class="xl">AXL</text>
<rect x="916.39" y="845.05" width="1.1" height="4.5" fill="#333"/>
<text transform="translate(921.69,864.30) rotate(-90) scale(1,1.05)" text-anchor="end" class="xl">HDAC4</text>
<rect x="928.63" y="845.05" width="1.1" height="4.5" fill="#333"/>
<text transform="translate(933.93,864.30) rotate(-90) scale(1,1.05)" text-anchor="end" class="xl">MSH2</text>
<rect x="940.86" y="845.05" width="1.1" height="4.5" fill="#333"/>
<text transform="translate(946.16,864.30) rotate(-90) scale(1,1.05)" text-anchor="end" class="xl">CSMD3</text>
<rect x="953.10" y="845.05" width="1.1" height="4.5" fill="#333"/>
<text transform="translate(958.40,864.30) rotate(-90) scale(1,1.05)" text-anchor="end" class="xl">MSH6</text>
<rect x="965.33" y="845.05" width="1.1" height="4.5" fill="#333"/>
<text transform="translate(970.63,864.30) rotate(-90) scale(1,1.05)" text-anchor="end" class="xl">FOXA1</text>
<rect x="977.57" y="845.05" width="1.1" height="4.5" fill="#333"/>
<text transform="translate(982.87,864.30) rotate(-90) scale(1,1.05)" text-anchor="end" class="xl">MED12</text>
<rect x="989.81" y="845.05" width="1.1" height="4.5" fill="#333"/>
<text transform="translate(995.11,864.30) rotate(-90) scale(1,1.05)" text-anchor="end" class="xl">CTNNB1</text>
<rect x="1002.04" y="845.05" width="1.1" height="4.5" fill="#333"/>
<text transform="translate(1007.34,864.30) rotate(-90) scale(1,1.05)" text-anchor="end" class="xl">PTEN</text>
<rect x="1014.28" y="845.05" width="1.1" height="4.5" fill="#333"/>
<text transform="translate(1019.58,864.30) rotate(-90) scale(1,1.05)" text-anchor="end" class="xl">FOXA1</text>
<rect x="1026.51" y="845.05" width="1.1" height="4.5" fill="#333"/>
<text transform="translate(1031.81,864.30) rotate(-90) scale(1,1.05)" text-anchor="end" class="xl">RYR2</text>
<rect x="1038.75" y="845.05" width="1.1" height="4.5" fill="#333"/>
<text transform="translate(1044.05,864.30) rotate(-90) scale(1,1.05)" text-anchor="end" class="xl">PRB4</text>
<rect x="1050.99" y="845.05" width="1.1" height="4.5" fill="#333"/>
<text transform="translate(1056.29,864.30) rotate(-90) scale(1,1.05)" text-anchor="end" class="xl">ASXL2</text>
<rect x="1063.22" y="845.05" width="1.1" height="4.5" fill="#333"/>
<text transform="translate(1068.52,864.30) rotate(-90) scale(1,1.05)" text-anchor="end" class="xl">SPTA1</text>
<rect x="1075.46" y="845.05" width="1.1" height="4.5" fill="#333"/>
<text transform="translate(1080.76,864.30) rotate(-90) scale(1,1.05)" text-anchor="end" class="xl">MED12</text>
<rect x="1087.69" y="845.05" width="1.1" height="4.5" fill="#333"/>
<text transform="translate(1092.99,864.30) rotate(-90) scale(1,1.05)" text-anchor="end" class="xl">HDAC4</text>
<rect x="1099.93" y="845.05" width="1.1" height="4.5" fill="#333"/>
<text transform="translate(1105.23,864.30) rotate(-90) scale(1,1.05)" text-anchor="end" class="xl">FOXA1</text>
<rect x="1112.17" y="845.05" width="1.1" height="4.5" fill="#333"/>
<text transform="translate(1117.47,864.30) rotate(-90) scale(1,1.05)" text-anchor="end" class="xl">SYNE1</text>
<rect x="1124.40" y="845.05" width="1.1" height="4.5" fill="#333"/>
<text transform="translate(1129.70,864.30) rotate(-90) scale(1,1.05)" text-anchor="end" class="xl">ATM</text>
<rect x="1136.64" y="845.05" width="1.1" height="4.5" fill="#333"/>
<text transform="translate(1141.94,864.30) rotate(-90) scale(1,1.05)" text-anchor="end" class="xl">FAT3</text>
<rect x="1148.87" y="845.05" width="1.1" height="4.5" fill="#333"/>
<text transform="translate(1154.17,864.30) rotate(-90) scale(1,1.05)" text-anchor="end" class="xl">ZFHX3</text>
<rect x="1161.11" y="845.05" width="1.1" height="4.5" fill="#333"/>
<text transform="translate(1166.41,864.30) rotate(-90) scale(1,1.05)" text-anchor="end" class="xl">NCOR2</text>
<rect x="1173.35" y="845.05" width="1.1" height="4.5" fill="#333"/>
<text transform="translate(1178.65,864.30) rotate(-90) scale(1,1.05)" text-anchor="end" class="xl">KDM6A</text>
<rect x="1185.58" y="845.05" width="1.1" height="4.5" fill="#333"/>
<text transform="translate(1190.88,864.30) rotate(-90) scale(1,1.05)" text-anchor="end" class="xl">PRKDC</text>
<rect x="1197.82" y="845.05" width="1.1" height="4.5" fill="#333"/>
<text transform="translate(1203.12,864.30) rotate(-90) scale(1,1.05)" text-anchor="end" class="xl">PCDH15</text>
<rect x="1210.05" y="845.05" width="1.1" height="4.5" fill="#333"/>
<text transform="translate(1215.35,864.30) rotate(-90) scale(1,1.05)" text-anchor="end" class="xl">KMT2C</text>
<rect x="1222.29" y="845.05" width="1.1" height="4.5" fill="#333"/>
<text transform="translate(1227.59,864.30) rotate(-90) scale(1,1.05)" text-anchor="end" class="xl">AHNAK2</text>
<rect x="1234.53" y="845.05" width="1.1" height="4.5" fill="#333"/>
<text transform="translate(1239.83,864.30) rotate(-90) scale(1,1.05)" text-anchor="end" class="xl">APC</text>
<rect x="1246.76" y="845.05" width="1.1" height="4.5" fill="#333"/>
<text transform="translate(1252.06,864.30) rotate(-90) scale(1,1.05)" text-anchor="end" class="xl">GNAS</text>
<rect x="1259.00" y="845.05" width="1.1" height="4.5" fill="#333"/>
<text transform="translate(1264.30,864.30) rotate(-90) scale(1,1.05)" text-anchor="end" class="xl">KDM6A</text>
<rect x="1271.23" y="845.05" width="1.1" height="4.5" fill="#333"/>
<text transform="translate(1276.53,864.30) rotate(-90) scale(1,1.05)" text-anchor="end" class="xl">TPTE</text>
<rect x="1283.47" y="845.05" width="1.1" height="4.5" fill="#333"/>
<text transform="translate(1288.77,864.30) rotate(-90) scale(1,1.05)" text-anchor="end" class="xl">IDH1</text>
<rect x="1295.71" y="845.05" width="1.1" height="4.5" fill="#333"/>
<text transform="translate(1301.01,864.30) rotate(-90) scale(1,1.05)" text-anchor="end" class="xl">BRAF</text>
<rect x="1307.94" y="845.05" width="1.1" height="4.5" fill="#333"/>
<text transform="translate(1313.24,864.30) rotate(-90) scale(1,1.05)" text-anchor="end" class="xl">CTNNB1</text>
<rect x="1320.18" y="845.05" width="1.1" height="4.5" fill="#333"/>
<text transform="translate(1325.48,864.30) rotate(-90) scale(1,1.05)" text-anchor="end" class="xl">NCOR1</text>
<rect x="1332.41" y="845.05" width="1.1" height="4.5" fill="#333"/>
<text transform="translate(1337.71,864.30) rotate(-90) scale(1,1.05)" text-anchor="end" class="xl">ADAMTS20</text>
<rect x="1344.65" y="845.05" width="1.1" height="4.5" fill="#333"/>
<text transform="translate(1349.95,864.30) rotate(-90) scale(1,1.05)" text-anchor="end" class="xl">KMT2D</text>
<rect x="1356.89" y="845.05" width="1.1" height="4.5" fill="#333"/>
<text transform="translate(1362.19,864.30) rotate(-90) scale(1,1.05)" text-anchor="end" class="xl">QRICH2</text>
<rect x="1369.12" y="845.05" width="1.1" height="4.5" fill="#333"/>
<text transform="translate(1374.42,864.30) rotate(-90) scale(1,1.05)" text-anchor="end" class="xl">BRCA1</text>
<rect x="1381.36" y="845.05" width="1.1" height="4.5" fill="#333"/>
<text transform="translate(1386.66,864.30) rotate(-90) scale(1,1.05)" text-anchor="end" class="xl">AKT1</text>
<rect x="1393.59" y="845.05" width="1.1" height="4.5" fill="#333"/>
<text transform="translate(1398.89,864.30) rotate(-90) scale(1,1.05)" text-anchor="end" class="xl">AR</text>
<rect x="1405.83" y="845.05" width="1.1" height="4.5" fill="#333"/>
<text transform="translate(1411.13,864.30) rotate(-90) scale(1,1.05)" text-anchor="end" class="xl">ASXL2</text>
<rect x="1418.07" y="845.05" width="1.1" height="4.5" fill="#333"/>
<text transform="translate(1423.37,864.30) rotate(-90) scale(1,1.05)" text-anchor="end" class="xl">MLH1</text>
<rect x="1430.30" y="845.05" width="1.1" height="4.5" fill="#333"/>
<text transform="translate(1435.60,864.30) rotate(-90) scale(1,1.05)" text-anchor="end" class="xl">AR</text>
<rect x="1442.54" y="845.05" width="1.1" height="4.5" fill="#333"/>
<text transform="translate(1447.84,864.30) rotate(-90) scale(1,1.05)" text-anchor="end" class="xl">BRCA2</text>
<rect x="1454.77" y="845.05" width="1.1" height="4.5" fill="#333"/>
<text transform="translate(1460.07,864.30) rotate(-90) scale(1,1.05)" text-anchor="end" class="xl">MSH6</text>
<rect x="1467.01" y="845.05" width="1.1" height="4.5" fill="#333"/>
<text transform="translate(1472.31,864.30) rotate(-90) scale(1,1.05)" text-anchor="end" class="xl">HRAS</text>
<rect x="1479.25" y="845.05" width="1.1" height="4.5" fill="#333"/>
<text transform="translate(1484.55,864.30) rotate(-90) scale(1,1.05)" text-anchor="end" class="xl">ERCC2</text>
<rect x="1491.48" y="845.05" width="1.1" height="4.5" fill="#333"/>
<text transform="translate(1496.78,864.30) rotate(-90) scale(1,1.05)" text-anchor="end" class="xl">CDKN2A</text>
<text transform="translate(114.2,29.80) scale(1,1.035)" class="ti">Localized Prostate Cancer</text>
<text transform="translate(36,445.70) rotate(-90) scale(1,1.03)" text-anchor="middle" class="yl">Proportion of Patients</text>
<text transform="translate(1222.1,436.30) scale(1,1.02)" text-anchor="middle" class="lt">MUTATION CLASS</text>
<rect x="1025.7" y="479.10" width="21.5" height="21.4" fill="#7630e6"/>
<text transform="translate(1064.0,498.40) scale(1,1.03)" class="lg">Genomic Gain</text>
<rect x="1025.7" y="502.60" width="21.5" height="21.4" fill="#ffbfcb"/>
<text transform="translate(1064.0,521.90) scale(1,1.03)" class="lg">Genomic Loss</text>
<rect x="1025.7" y="526.10" width="21.5" height="21.4" fill="#ff2200"/>
<text transform="translate(1064.0,545.40) scale(1,1.03)" class="lg">Inter-chromosomal translocation</text>
<rect x="1025.7" y="549.60" width="21.5" height="21.4" fill="#0433ff"/>
<text transform="translate(1064.0,568.90) scale(1,1.03)" class="lg">Inversion</text>
<rect x="1025.7" y="573.10" width="21.5" height="21.4" fill="#458900"/>
<text transform="translate(1064.0,592.40) scale(1,1.03)" class="lg">Non-coding SNV</text>
<rect x="1025.7" y="596.60" width="21.5" height="21.4" fill="#ffa500"/>
<text transform="translate(1064.0,615.90) scale(1,1.03)" class="lg">Non-synonymous</text>
<rect x="1025.7" y="620.10" width="21.5" height="21.4" fill="#104e8b"/>
<text transform="translate(1064.0,639.40) scale(1,1.03)" class="lg">SV</text>
<rect x="116.70" y="1138.80" width="9.8" height="683.95" fill="#7630e6"/>
<rect x="120.85" y="1102.20" width="1.5" height="36.60" fill="#222"/>
<rect x="120.20" y="1101.30" width="2.8" height="1.8" fill="#111"/>
<rect x="128.94" y="1173.20" width="9.8" height="649.55" fill="#ffbfcb"/>
<rect x="133.09" y="1135.90" width="1.5" height="37.30" fill="#222"/>
<rect x="132.44" y="1135.00" width="2.8" height="1.8" fill="#111"/>
<rect x="141.17" y="1204.60" width="9.8" height="618.15" fill="#7630e6"/>
<rect x="145.32" y="1166.00" width="1.5" height="38.60" fill="#222"/>
<rect x="144.67" y="1165.10" width="2.8" height="1.8" fill="#111"/>
<rect x="153.41" y="1229.00" width="9.8" height="593.75" fill="#ffbfcb"/>
<rect x="157.56" y="1189.80" width="1.5" height="39.20" fill="#222"/>
<rect x="156.91" y="1188.90" width="2.8" height="1.8" fill="#111"/>
<rect x="165.64" y="1241.00" width="9.8" height="581.75" fill="#ffbfcb"/>
<rect x="169.79" y="1201.70" width="1.5" height="39.30" fill="#222"/>
<rect x="169.14" y="1200.80" width="2.8" height="1.8" fill="#111"/>
<rect x="177.88" y="1322.80" width="9.8" height="499.95" fill="#ffbfcb"/>
<rect x="182.03" y="1282.30" width="1.5" height="40.50" fill="#222"/>
<rect x="181.38" y="1281.40" width="2.8" height="1.8" fill="#111"/>
<rect x="190.12" y="1329.50" width="9.8" height="493.25" fill="#ffbfcb"/>
<rect x="194.27" y="1289.60" width="1.5" height="39.90" fill="#222"/>
<rect x="193.62" y="1288.70" width="2.8" height="1.8" fill="#111"/>
<rect x="202.35" y="1395.30" width="9.8" height="427.45" fill="#7630e6"/>
<rect x="206.50" y="1355.50" width="1.5" height="39.80" fill="#222"/>
<rect x="205.85" y="1354.60" width="2.8" height="1.8" fill="#111"/>
<rect x="214.59" y="1414.20" width="9.8" height="408.55" fill="#104e8b"/>
<rect x="218.74" y="1321.20" width="1.5" height="93.00" fill="#222"/>
<rect x="218.09" y="1320.30" width="2.8" height="1.8" fill="#111"/>
<rect x="226.82" y="1414.80" width="9.8" height="407.95" fill="#ffbfcb"/>
<rect x="230.97" y="1374.90" width="1.5" height="39.90" fill="#222"/>
<rect x="230.32" y="1374.00" width="2.8" height="1.8" fill="#111"/>
<rect x="239.06" y="1444.10" width="9.8" height="378.65" fill="#ffbfcb"/>
<rect x="243.21" y="1405.00" width="1.5" height="39.10" fill="#222"/>
<rect x="242.56" y="1404.10" width="2.8" height="1.8" fill="#111"/>
<rect x="251.30" y="1461.60" width="9.8" height="361.15" fill="#ffa500"/>
<rect x="255.45" y="1422.60" width="1.5" height="39.00" fill="#222"/>
<rect x="254.80" y="1421.70" width="2.8" height="1.8" fill="#111"/>
<rect x="263.53" y="1479.10" width="9.8" height="343.65" fill="#ffbfcb"/>
<rect x="267.68" y="1440.30" width="1.5" height="38.80" fill="#222"/>
<rect x="267.03" y="1439.40" width="2.8" height="1.8" fill="#111"/>
<rect x="275.77" y="1505.10" width="9.8" height="317.65" fill="#7630e6"/>
<rect x="279.92" y="1467.10" width="1.5" height="38.00" fill="#222"/>
<rect x="279.27" y="1466.20" width="2.8" height="1.8" fill="#111"/>
<rect x="288.00" y="1510.40" width="9.8" height="312.35" fill="#7630e6"/>
<rect x="292.15" y="1472.50" width="1.5" height="37.90" fill="#222"/>
<rect x="291.50" y="1471.60" width="2.8" height="1.8" fill="#111"/>
<rect x="300.24" y="1532.90" width="9.8" height="289.85" fill="#7630e6"/>
<rect x="304.39" y="1495.70" width="1.5" height="37.20" fill="#222"/>
<rect x="303.74" y="1494.80" width="2.8" height="1.8" fill="#111"/>
<rect x="312.48" y="1536.10" width="9.8" height="286.65" fill="#ffbfcb"/>
<rect x="316.63" y="1499.40" width="1.5" height="36.70" fill="#222"/>
<rect x="315.98" y="1498.50" width="2.8" height="1.8" fill="#111"/>
<rect x="324.71" y="1553.70" width="9.8" height="269.05" fill="#ffbfcb"/>
<rect x="328.86" y="1517.40" width="1.5" height="36.30" fill="#222"/>
<rect x="328.21" y="1516.50" width="2.8" height="1.8" fill="#111"/>
<rect x="336.95" y="1562.20" width="9.8" height="260.55" fill="#7630e6"/>
<rect x="341.10" y="1526.40" width="1.5" height="35.80" fill="#222"/>
<rect x="340.45" y="1525.50" width="2.8" height="1.8" fill="#111"/>
<rect x="349.18" y="1583.10" width="9.8" height="239.65" fill="#ffbfcb"/>
<rect x="353.33" y="1548.30" width="1.5" height="34.80" fill="#222"/>
<rect x="352.68" y="1547.40" width="2.8" height="1.8" fill="#111"/>
<rect x="361.42" y="1598.70" width="9.8" height="224.05" fill="#7630e6"/>
<rect x="365.57" y="1564.60" width="1.5" height="34.10" fill="#222"/>
<rect x="364.92" y="1563.70" width="2.8" height="1.8" fill="#111"/>
<rect x="373.66" y="1604.00" width="9.8" height="218.75" fill="#ffbfcb"/>
<rect x="377.81" y="1570.10" width="1.5" height="33.90" fill="#222"/>
<rect x="377.16" y="1569.20" width="2.8" height="1.8" fill="#111"/>
<rect x="385.89" y="1609.10" width="9.8" height="213.65" fill="#7630e6"/>
<rect x="390.04" y="1575.70" width="1.5" height="33.40" fill="#222"/>
<rect x="389.39" y="1574.80" width="2.8" height="1.8" fill="#111"/>
<rect x="398.13" y="1614.70" width="9.8" height="208.05" fill="#104e8b"/>
<rect x="402.28" y="1536.70" width="1.5" height="78.00" fill="#222"/>
<rect x="401.63" y="1535.80" width="2.8" height="1.8" fill="#111"/>
<rect x="410.36" y="1621.20" width="9.8" height="201.55" fill="#7630e6"/>
<rect x="414.51" y="1588.30" width="1.5" height="32.90" fill="#222"/>
<rect x="413.86" y="1587.40" width="2.8" height="1.8" fill="#111"/>
<rect x="422.60" y="1633.40" width="9.8" height="189.35" fill="#ff2200"/>
<rect x="426.75" y="1558.30" width="1.5" height="75.10" fill="#222"/>
<rect x="426.10" y="1557.40" width="2.8" height="1.8" fill="#111"/>
<rect x="434.84" y="1638.30" width="9.8" height="184.45" fill="#ffbfcb"/>
<rect x="438.99" y="1606.90" width="1.5" height="31.40" fill="#222"/>
<rect x="438.34" y="1606.00" width="2.8" height="1.8" fill="#111"/>
<rect x="447.07" y="1640.30" width="9.8" height="182.45" fill="#ffbfcb"/>
<rect x="451.22" y="1608.80" width="1.5" height="31.50" fill="#222"/>
<rect x="450.57" y="1607.90" width="2.8" height="1.8" fill="#111"/>
<rect x="459.31" y="1645.50" width="9.8" height="177.25" fill="#ffa500"/>
<rect x="463.46" y="1614.10" width="1.5" height="31.40" fill="#222"/>
<rect x="462.81" y="1613.20" width="2.8" height="1.8" fill="#111"/>
<rect x="471.54" y="1662.20" width="9.8" height="160.55" fill="#ff2200"/>
<rect x="475.69" y="1592.00" width="1.5" height="70.20" fill="#222"/>
<rect x="475.04" y="1591.10" width="2.8" height="1.8" fill="#111"/>
<rect x="483.78" y="1675.00" width="9.8" height="147.75" fill="#ffa500"/>
<rect x="487.93" y="1645.90" width="1.5" height="29.10" fill="#222"/>
<rect x="487.28" y="1645.00" width="2.8" height="1.8" fill="#111"/>
<rect x="496.02" y="1689.10" width="9.8" height="133.65" fill="#ffbfcb"/>
<rect x="500.17" y="1660.80" width="1.5" height="28.30" fill="#222"/>
<rect x="499.52" y="1659.90" width="2.8" height="1.8" fill="#111"/>
<rect x="508.25" y="1690.70" width="9.8" height="132.05" fill="#0433ff"/>
<rect x="512.40" y="1625.80" width="1.5" height="64.90" fill="#222"/>
<rect x="511.75" y="1624.90" width="2.8" height="1.8" fill="#111"/>
<rect x="520.49" y="1692.30" width="9.8" height="130.45" fill="#ffa500"/>
<rect x="524.64" y="1664.70" width="1.5" height="27.60" fill="#222"/>
<rect x="523.99" y="1663.80" width="2.8" height="1.8" fill="#111"/>
<rect x="532.72" y="1700.40" width="9.8" height="122.35" fill="#104e8b"/>
<rect x="536.87" y="1637.30" width="1.5" height="63.10" fill="#222"/>
<rect x="536.22" y="1636.40" width="2.8" height="1.8" fill="#111"/>
<rect x="544.96" y="1710.00" width="9.8" height="112.75" fill="#ffbfcb"/>
<rect x="549.11" y="1683.60" width="1.5" height="26.40" fill="#222"/>
<rect x="548.46" y="1682.70" width="2.8" height="1.8" fill="#111"/>
<rect x="557.20" y="1710.00" width="9.8" height="112.75" fill="#104e8b"/>
<rect x="561.35" y="1648.90" width="1.5" height="61.10" fill="#222"/>
<rect x="560.70" y="1648.00" width="2.8" height="1.8" fill="#111"/>
<rect x="569.43" y="1719.30" width="9.8" height="103.45" fill="#104e8b"/>
<rect x="573.58" y="1660.80" width="1.5" height="58.50" fill="#222"/>
<rect x="572.93" y="1659.90" width="2.8" height="1.8" fill="#111"/>
<rect x="581.67" y="1723.60" width="9.8" height="99.15" fill="#ffbfcb"/>
<rect x="585.82" y="1698.80" width="1.5" height="24.80" fill="#222"/>
<rect x="585.17" y="1697.90" width="2.8" height="1.8" fill="#111"/>
<rect x="593.90" y="1728.80" width="9.8" height="93.95" fill="#ffa500"/>
<rect x="598.05" y="1704.70" width="1.5" height="24.10" fill="#222"/>
<rect x="597.40" y="1703.80" width="2.8" height="1.8" fill="#111"/>
<rect x="606.14" y="1728.80" width="9.8" height="93.95" fill="#ff2200"/>
<rect x="610.29" y="1672.70" width="1.5" height="56.10" fill="#222"/>
<rect x="609.64" y="1671.80" width="2.8" height="1.8" fill="#111"/>
<rect x="618.38" y="1734.10" width="9.8" height="88.65" fill="#ffbfcb"/>
<rect x="622.53" y="1710.50" width="1.5" height="23.60" fill="#222"/>
<rect x="621.88" y="1709.60" width="2.8" height="1.8" fill="#111"/>
<rect x="630.61" y="1737.50" width="9.8" height="85.25" fill="#ffa500"/>
<rect x="634.76" y="1714.40" width="1.5" height="23.10" fill="#222"/>
<rect x="634.11" y="1713.50" width="2.8" height="1.8" fill="#111"/>
<rect x="642.85" y="1740.80" width="9.8" height="81.95" fill="#ffa500"/>
<rect x="647.00" y="1718.30" width="1.5" height="22.50" fill="#222"/>
<rect x="646.35" y="1717.40" width="2.8" height="1.8" fill="#111"/>
<rect x="655.08" y="1742.90" width="9.8" height="79.85" fill="#ffbfcb"/>
<rect x="659.23" y="1720.30" width="1.5" height="22.60" fill="#222"/>
<rect x="658.58" y="1719.40" width="2.8" height="1.8" fill="#111"/>
<rect x="667.32" y="1742.90" width="9.8" height="79.85" fill="#ffbfcb"/>
<rect x="671.47" y="1720.30" width="1.5" height="22.60" fill="#222"/>
<rect x="670.82" y="1719.40" width="2.8" height="1.8" fill="#111"/>
<rect x="679.56" y="1742.90" width="9.8" height="79.85" fill="#ffa500"/>
<rect x="683.71" y="1720.30" width="1.5" height="22.60" fill="#222"/>
<rect x="683.06" y="1719.40" width="2.8" height="1.8" fill="#111"/>
<rect x="691.79" y="1746.10" width="9.8" height="76.65" fill="#ffa500"/>
<rect x="695.94" y="1724.20" width="1.5" height="21.90" fill="#222"/>
<rect x="695.29" y="1723.30" width="2.8" height="1.8" fill="#111"/>
<rect x="704.03" y="1748.20" width="9.8" height="74.55" fill="#104e8b"/>
<rect x="708.18" y="1697.20" width="1.5" height="51.00" fill="#222"/>
<rect x="707.53" y="1696.30" width="2.8" height="1.8" fill="#111"/>
<rect x="716.26" y="1749.60" width="9.8" height="73.15" fill="#ffa500"/>
<rect x="720.41" y="1728.10" width="1.5" height="21.50" fill="#222"/>
<rect x="719.76" y="1727.20" width="2.8" height="1.8" fill="#111"/>
<rect x="728.50" y="1753.20" width="9.8" height="69.55" fill="#ffa500"/>
<rect x="732.65" y="1732.00" width="1.5" height="21.20" fill="#222"/>
<rect x="732.00" y="1731.10" width="2.8" height="1.8" fill="#111"/>
<rect x="740.74" y="1754.90" width="9.8" height="67.85" fill="#ffa500"/>
<rect x="744.89" y="1734.00" width="1.5" height="20.90" fill="#222"/>
<rect x="744.24" y="1733.10" width="2.8" height="1.8" fill="#111"/>
<rect x="752.97" y="1757.50" width="9.8" height="65.25" fill="#104e8b"/>
<rect x="757.12" y="1709.70" width="1.5" height="47.80" fill="#222"/>
<rect x="756.47" y="1708.80" width="2.8" height="1.8" fill="#111"/>
<rect x="765.21" y="1758.40" width="9.8" height="64.35" fill="#ffa500"/>
<rect x="769.36" y="1738.00" width="1.5" height="20.40" fill="#222"/>
<rect x="768.71" y="1737.10" width="2.8" height="1.8" fill="#111"/>
<rect x="777.44" y="1767.10" width="9.8" height="55.65" fill="#104e8b"/>
<rect x="781.59" y="1722.40" width="1.5" height="44.70" fill="#222"/>
<rect x="780.94" y="1721.50" width="2.8" height="1.8" fill="#111"/>
<rect x="789.68" y="1767.10" width="9.8" height="55.65" fill="#104e8b"/>
<rect x="793.83" y="1722.40" width="1.5" height="44.70" fill="#222"/>
<rect x="793.18" y="1721.50" width="2.8" height="1.8" fill="#111"/>
<rect x="801.92" y="1767.10" width="9.8" height="55.65" fill="#104e8b"/>
<rect x="806.07" y="1722.40" width="1.5" height="44.70" fill="#222"/>
<rect x="805.42" y="1721.50" width="2.8" height="1.8" fill="#111"/>
<rect x="814.15" y="1767.10" width="9.8" height="55.65" fill="#104e8b"/>
<rect x="818.30" y="1722.40" width="1.5" height="44.70" fill="#222"/>
<rect x="817.65" y="1721.50" width="2.8" height="1.8" fill="#111"/>
<rect x="826.39" y="1769.00" width="9.8" height="53.75" fill="#ffa500"/>
<rect x="830.54" y="1750.10" width="1.5" height="18.90" fill="#222"/>
<rect x="829.89" y="1749.20" width="2.8" height="1.8" fill="#111"/>
<rect x="838.62" y="1769.00" width="9.8" height="53.75" fill="#ffa500"/>
<rect x="842.77" y="1750.10" width="1.5" height="18.90" fill="#222"/>
<rect x="842.12" y="1749.20" width="2.8" height="1.8" fill="#111"/>
<rect x="850.86" y="1774.00" width="9.8" height="48.75" fill="#ffa500"/>
<rect x="855.01" y="1756.20" width="1.5" height="17.80" fill="#222"/>
<rect x="854.36" y="1755.30" width="2.8" height="1.8" fill="#111"/>
<rect x="863.10" y="1774.00" width="9.8" height="48.75" fill="#ffa500"/>
<rect x="867.25" y="1756.20" width="1.5" height="17.80" fill="#222"/>
<rect x="866.60" y="1755.30" width="2.8" height="1.8" fill="#111"/>
<rect x="875.33" y="1774.00" width="9.8" height="48.75" fill="#ffa500"/>
<rect x="879.48" y="1756.20" width="1.5" height="17.80" fill="#222"/>
<rect x="878.83" y="1755.30" width="2.8" height="1.8" fill="#111"/>
<rect x="887.57" y="1777.00" width="9.8" height="45.75" fill="#104e8b"/>
<rect x="891.72" y="1735.70" width="1.5" height="41.30" fill="#222"/>
<rect x="891.07" y="1734.80" width="2.8" height="1.8" fill="#111"/>
<rect x="899.80" y="1777.00" width="9.8" height="45.75" fill="#104e8b"/>
<rect x="903.95" y="1735.70" width="1.5" height="41.30" fill="#222"/>
<rect x="903.30" y="1734.80" width="2.8" height="1.8" fill="#111"/>
<rect x="912.04" y="1777.30" width="9.8" height="45.45" fill="#ffbfcb"/>
<rect x="916.19" y="1760.10" width="1.5" height="17.20" fill="#222"/>
<rect x="915.54" y="1759.20" width="2.8" height="1.8" fill="#111"/>
<rect x="924.28" y="1781.10" width="9.8" height="41.65" fill="#ffa500"/>
<rect x="928.43" y="1764.20" width="1.5" height="16.90" fill="#222"/>
<rect x="927.78" y="1763.30" width="2.8" height="1.8" fill="#111"/>
<rect x="936.51" y="1786.40" width="9.8" height="36.35" fill="#104e8b"/>
<rect x="940.66" y="1749.30" width="1.5" height="37.10" fill="#222"/>
<rect x="940.01" y="1748.40" width="2.8" height="1.8" fill="#111"/>
<rect x="948.75" y="1788.00" width="9.8" height="34.75" fill="#ffa500"/>
<rect x="952.90" y="1772.40" width="1.5" height="15.60" fill="#222"/>
<rect x="952.25" y="1771.50" width="2.8" height="1.8" fill="#111"/>
<rect x="960.98" y="1788.00" width="9.8" height="34.75" fill="#ffa500"/>
<rect x="965.13" y="1772.40" width="1.5" height="15.60" fill="#222"/>
<rect x="964.48" y="1771.50" width="2.8" height="1.8" fill="#111"/>
<rect x="973.22" y="1789.30" width="9.8" height="33.45" fill="#ffa500"/>
<rect x="977.37" y="1774.50" width="1.5" height="14.80" fill="#222"/>
<rect x="976.72" y="1773.60" width="2.8" height="1.8" fill="#111"/>
<rect x="985.46" y="1793.10" width="9.8" height="29.65" fill="#ffa500"/>
<rect x="989.61" y="1778.70" width="1.5" height="14.40" fill="#222"/>
<rect x="988.96" y="1777.80" width="2.8" height="1.8" fill="#111"/>
<rect x="997.69" y="1795.60" width="9.8" height="27.15" fill="#ff2200"/>
<rect x="1001.19" y="1762.60" width="2.8" height="1.8" fill="#111"/>
<rect x="1009.93" y="1796.50" width="9.8" height="26.25" fill="#ffa500"/>
<rect x="1014.08" y="1783.10" width="1.5" height="13.40" fill="#222"/>
<rect x="1013.43" y="1782.20" width="2.8" height="1.8" fill="#111"/>
<rect x="1022.16" y="1798.10" width="9.8" height="24.65" fill="#ffa500"/>
<rect x="1026.31" y="1785.20" width="1.5" height="12.90" fill="#222"/>
<rect x="1025.66" y="1784.30" width="2.8" height="1.8" fill="#111"/>
<rect x="1034.40" y="1801.90" width="9.8" height="20.85" fill="#ffa500"/>
<rect x="1038.55" y="1789.50" width="1.5" height="12.40" fill="#222"/>
<rect x="1037.90" y="1788.60" width="2.8" height="1.8" fill="#111"/>
<rect x="1046.64" y="1802.00" width="9.8" height="20.75" fill="#ffa500"/>
<rect x="1050.79" y="1789.50" width="1.5" height="12.50" fill="#222"/>
<rect x="1050.14" y="1788.60" width="2.8" height="1.8" fill="#111"/>
<rect x="1058.87" y="1802.00" width="9.8" height="20.75" fill="#ffa500"/>
<rect x="1063.02" y="1789.50" width="1.5" height="12.50" fill="#222"/>
<rect x="1062.37" y="1788.60" width="2.8" height="1.8" fill="#111"/>
<rect x="1071.11" y="1802.00" width="9.8" height="20.75" fill="#ffa500"/>
<rect x="1075.26" y="1789.50" width="1.5" height="12.50" fill="#222"/>
<rect x="1074.61" y="1788.60" width="2.8" height="1.8" fill="#111"/>
<rect x="1083.34" y="1803.30" width="9.8" height="19.45" fill="#ffa500"/>
<rect x="1087.49" y="1791.70" width="1.5" height="11.60" fill="#222"/>
<rect x="1086.84" y="1790.80" width="2.8" height="1.8" fill="#111"/>
<rect x="1095.58" y="1805.20" width="9.8" height="17.55" fill="#ffa500"/>
<rect x="1099.73" y="1793.80" width="1.5" height="11.40" fill="#222"/>
<rect x="1099.08" y="1792.90" width="2.8" height="1.8" fill="#111"/>
<rect x="1107.82" y="1805.30" width="9.8" height="17.45" fill="#104e8b"/>
<rect x="1111.32" y="1778.00" width="2.8" height="1.8" fill="#111"/>
<rect x="1120.05" y="1805.30" width="9.8" height="17.45" fill="#104e8b"/>
<rect x="1123.55" y="1778.00" width="2.8" height="1.8" fill="#111"/>
<rect x="1132.29" y="1805.30" width="9.8" height="17.45" fill="#104e8b"/>
<rect x="1135.79" y="1778.00" width="2.8" height="1.8" fill="#111"/>
<rect x="1144.52" y="1805.30" width="9.8" height="17.45" fill="#0433ff"/>
<rect x="1148.02" y="1778.00" width="2.8" height="1.8" fill="#111"/>
<rect x="1156.76" y="1805.30" width="9.8" height="17.45" fill="#104e8b"/>
<rect x="1160.26" y="1778.00" width="2.8" height="1.8" fill="#111"/>
<rect x="1169.00" y="1805.30" width="9.8" height="17.45" fill="#104e8b"/>
<rect x="1172.50" y="1778.00" width="2.8" height="1.8" fill="#111"/>
<rect x="1181.23" y="1805.30" width="9.8" height="17.45" fill="#104e8b"/>
<rect x="1184.73" y="1778.00" width="2.8" height="1.8" fill="#111"/>
<rect x="1193.47" y="1807.10" width="9.8" height="15.65" fill="#ffa500"/>
<rect x="1197.62" y="1796.20" width="1.5" height="10.90" fill="#222"/>
<rect x="1196.97" y="1795.30" width="2.8" height="1.8" fill="#111"/>
<rect x="1205.70" y="1808.70" width="9.8" height="14.05" fill="#ffa500"/>
<rect x="1209.85" y="1798.50" width="1.5" height="10.20" fill="#222"/>
<rect x="1209.20" y="1797.60" width="2.8" height="1.8" fill="#111"/>
<rect x="1217.94" y="1810.30" width="9.8" height="12.45" fill="#ffa500"/>
<rect x="1222.09" y="1800.80" width="1.5" height="9.50" fill="#222"/>
<rect x="1221.44" y="1799.90" width="2.8" height="1.8" fill="#111"/>
<rect x="1230.18" y="1810.30" width="9.8" height="12.45" fill="#ffa500"/>
<rect x="1234.33" y="1800.80" width="1.5" height="9.50" fill="#222"/>
<rect x="1233.68" y="1799.90" width="2.8" height="1.8" fill="#111"/>
<rect x="1242.41" y="1812.20" width="9.8" height="10.55" fill="#ffa500"/>
<rect x="1246.56" y="1803.10" width="1.5" height="9.10" fill="#222"/>
<rect x="1245.91" y="1802.20" width="2.8" height="1.8" fill="#111"/>
<rect x="1254.65" y="1814.00" width="9.8" height="8.75" fill="#ffa500"/>
<rect x="1258.80" y="1805.50" width="1.5" height="8.50" fill="#222"/>
<rect x="1258.15" y="1804.60" width="2.8" height="1.8" fill="#111"/>
<rect x="1266.88" y="1814.00" width="9.8" height="8.75" fill="#ffa500"/>
<rect x="1271.03" y="1805.50" width="1.5" height="8.50" fill="#222"/>
<rect x="1270.38" y="1804.60" width="2.8" height="1.8" fill="#111"/>
<rect x="1279.12" y="1815.10" width="9.8" height="7.65" fill="#104e8b"/>
<rect x="1282.62" y="1795.10" width="2.8" height="1.8" fill="#111"/>
<rect x="1291.36" y="1815.10" width="9.8" height="7.65" fill="#0433ff"/>
<rect x="1294.86" y="1795.10" width="2.8" height="1.8" fill="#111"/>
<rect x="1303.59" y="1815.10" width="9.8" height="7.65" fill="#458900"/>
<rect x="1307.09" y="1795.10" width="2.8" height="1.8" fill="#111"/>
<rect x="1315.83" y="1815.10" width="9.8" height="7.65" fill="#ff2200"/>
<rect x="1319.33" y="1795.10" width="2.8" height="1.8" fill="#111"/>
<rect x="1328.06" y="1815.10" width="9.8" height="7.65" fill="#104e8b"/>
<rect x="1331.56" y="1795.10" width="2.8" height="1.8" fill="#111"/>
<rect x="1340.30" y="1815.10" width="9.8" height="7.65" fill="#104e8b"/>
<rect x="1343.80" y="1795.10" width="2.8" height="1.8" fill="#111"/>
<rect x="1352.54" y="1815.10" width="9.8" height="7.65" fill="#104e8b"/>
<rect x="1356.04" y="1795.10" width="2.8" height="1.8" fill="#111"/>
<rect x="1364.77" y="1815.10" width="9.8" height="7.65" fill="#104e8b"/>
<rect x="1368.27" y="1795.10" width="2.8" height="1.8" fill="#111"/>
<rect x="1377.01" y="1815.30" width="9.8" height="7.45" fill="#ffa500"/>
<rect x="1381.16" y="1808.00" width="1.5" height="7.30" fill="#222"/>
<rect x="1380.51" y="1807.10" width="2.8" height="1.8" fill="#111"/>
<rect x="1389.24" y="1817.40" width="9.8" height="5.35" fill="#ffa500"/>
<rect x="1393.39" y="1810.50" width="1.5" height="6.90" fill="#222"/>
<rect x="1392.74" y="1809.60" width="2.8" height="1.8" fill="#111"/>
<rect x="1401.48" y="1819.00" width="9.8" height="3.75" fill="#ffa500"/>
<rect x="1404.98" y="1812.10" width="2.8" height="1.8" fill="#111"/>
<rect x="1413.72" y="1820.50" width="9.8" height="2.25" fill="#ffa500"/>
<rect x="1417.22" y="1814.80" width="2.8" height="1.8" fill="#111"/>
<rect x="1429.45" y="1818.10" width="2.8" height="1.8" fill="#111"/>
<rect x="115.5" y="1026.25" width="1382.45" height="796.50" fill="none" stroke="#000" stroke-width="2.6"/>
<rect x="110.2" y="1052.85" width="4.2" height="1.1" fill="#333"/>
<text transform="translate(107,1068.40) scale(1,1.055)" text-anchor="end" class="yt">0.8</text>
<rect x="110.2" y="1245.50" width="4.2" height="1.1" fill="#333"/>
<text transform="translate(107,1261.05) scale(1,1.055)" text-anchor="end" class="yt">0.6</text>
<rect x="110.2" y="1438.15" width="4.2" height="1.1" fill="#333"/>
<text transform="translate(107,1453.70) scale(1,1.055)" text-anchor="end" class="yt">0.4</text>
<rect x="110.2" y="1630.80" width="4.2" height="1.1" fill="#333"/>
<text transform="translate(107,1646.35) scale(1,1.055)" text-anchor="end" class="yt">0.2</text>
<rect x="110.2" y="1823.45" width="4.2" height="1.1" fill="#333"/>
<text transform="translate(107,1839.00) scale(1,1.055)" text-anchor="end" class="yt">0.0</text>
<rect x="121.05" y="1823.75" width="1.1" height="4.5" fill="#333"/>
<text transform="translate(126.35,1841.70) rotate(-90) scale(1,1.05)" text-anchor="end" class="xl">AR</text>
<rect x="133.29" y="1823.75" width="1.1" height="4.5" fill="#333"/>
<text transform="translate(138.59,1841.70) rotate(-90) scale(1,1.05)" text-anchor="end" class="xl">NKX3-1</text>
<rect x="145.52" y="1823.75" width="1.1" height="4.5" fill="#333"/>
<text transform="translate(150.82,1841.70) rotate(-90) scale(1,1.05)" text-anchor="end" class="xl">MYC</text>
<rect x="157.76" y="1823.75" width="1.1" height="4.5" fill="#333"/>
<text transform="translate(163.06,1841.70) rotate(-90) scale(1,1.05)" text-anchor="end" class="xl">RB1</text>
<rect x="169.99" y="1823.75" width="1.1" height="4.5" fill="#333"/>
<text transform="translate(175.29,1841.70) rotate(-90) scale(1,1.05)" text-anchor="end" class="xl">TP53</text>
<rect x="182.23" y="1823.75" width="1.1" height="4.5" fill="#333"/>
<text transform="translate(187.53,1841.70) rotate(-90) scale(1,1.05)" text-anchor="end" class="xl">PTEN</text>
<rect x="194.47" y="1823.75" width="1.1" height="4.5" fill="#333"/>
<text transform="translate(199.77,1841.70) rotate(-90) scale(1,1.05)" text-anchor="end" class="xl">ZFHX3</text>
<rect x="206.70" y="1823.75" width="1.1" height="4.5" fill="#333"/>
<text transform="translate(212.00,1841.70) rotate(-90) scale(1,1.05)" text-anchor="end" class="xl">PRKDC</text>
<rect x="218.94" y="1823.75" width="1.1" height="4.5" fill="#333"/>
<text transform="translate(224.24,1841.70) rotate(-90) scale(1,1.05)" text-anchor="end" class="xl">ERG</text>
<rect x="231.17" y="1823.75" width="1.1" height="4.5" fill="#333"/>
<text transform="translate(236.47,1841.70) rotate(-90) scale(1,1.05)" text-anchor="end" class="xl">CDH1</text>
<rect x="243.41" y="1823.75" width="1.1" height="4.5" fill="#333"/>
<text transform="translate(248.71,1841.70) rotate(-90) scale(1,1.05)" text-anchor="end" class="xl">BRCA2</text>
<rect x="255.65" y="1823.75" width="1.1" height="4.5" fill="#333"/>
<text transform="translate(260.95,1841.70) rotate(-90) scale(1,1.05)" text-anchor="end" class="xl">TP53</text>
<rect x="267.88" y="1823.75" width="1.1" height="4.5" fill="#333"/>
<text transform="translate(273.18,1841.70) rotate(-90) scale(1,1.05)" text-anchor="end" class="xl">NCOR1</text>
<rect x="280.12" y="1823.75" width="1.1" height="4.5" fill="#333"/>
<text transform="translate(285.42,1841.70) rotate(-90) scale(1,1.05)" text-anchor="end" class="xl">BRAF</text>
<rect x="292.35" y="1823.75" width="1.1" height="4.5" fill="#333"/>
<text transform="translate(297.65,1841.70) rotate(-90) scale(1,1.05)" text-anchor="end" class="xl">ETV5</text>
<rect x="304.59" y="1823.75" width="1.1" height="4.5" fill="#333"/>
<text transform="translate(309.89,1841.70) rotate(-90) scale(1,1.05)" text-anchor="end" class="xl">ETV1</text>
<rect x="316.83" y="1823.75" width="1.1" height="4.5" fill="#333"/>
<text transform="translate(322.13,1841.70) rotate(-90) scale(1,1.05)" text-anchor="end" class="xl">ZNRF3</text>
<rect x="329.06" y="1823.75" width="1.1" height="4.5" fill="#333"/>
<text transform="translate(334.36,1841.70) rotate(-90) scale(1,1.05)" text-anchor="end" class="xl">CHD1</text>
<rect x="341.30" y="1823.75" width="1.1" height="4.5" fill="#333"/>
<text transform="translate(346.60,1841.70) rotate(-90) scale(1,1.05)" text-anchor="end" class="xl">CCND1</text>
<rect x="353.53" y="1823.75" width="1.1" height="4.5" fill="#333"/>
<text transform="translate(358.83,1841.70) rotate(-90) scale(1,1.05)" text-anchor="end" class="xl">APC</text>
<rect x="365.77" y="1823.75" width="1.1" height="4.5" fill="#333"/>
<text transform="translate(371.07,1841.70) rotate(-90) scale(1,1.05)" text-anchor="end" class="xl">FOXA1</text>
<rect x="378.01" y="1823.75" width="1.1" height="4.5" fill="#333"/>
<text transform="translate(383.31,1841.70) rotate(-90) scale(1,1.05)" text-anchor="end" class="xl">ZBTB16</text>
<rect x="390.24" y="1823.75" width="1.1" height="4.5" fill="#333"/>
<text transform="translate(395.54,1841.70) rotate(-90) scale(1,1.05)" text-anchor="end" class="xl">CTNNB1</text>
<rect x="402.48" y="1823.75" width="1.1" height="4.5" fill="#333"/>
<text transform="translate(407.78,1841.70) rotate(-90) scale(1,1.05)" text-anchor="end" class="xl">PTEN</text>
<rect x="414.71" y="1823.75" width="1.1" height="4.5" fill="#333"/>
<text transform="translate(420.01,1841.70) rotate(-90) scale(1,1.05)" text-anchor="end" class="xl">AKT1</text>
<rect x="426.95" y="1823.75" width="1.1" height="4.5" fill="#333"/>
<text transform="translate(432.25,1841.70) rotate(-90) scale(1,1.05)" text-anchor="end" class="xl">chr21:42 Mbp</text>
<rect x="439.19" y="1823.75" width="1.1" height="4.5" fill="#333"/>
<text transform="translate(444.49,1841.70) rotate(-90) scale(1,1.05)" text-anchor="end" class="xl">CDKN2A</text>
<rect x="451.42" y="1823.75" width="1.1" height="4.5" fill="#333"/>
<text transform="translate(456.72,1841.70) rotate(-90) scale(1,1.05)" text-anchor="end" class="xl">ATM</text>
<rect x="463.66" y="1823.75" width="1.1" height="4.5" fill="#333"/>
<text transform="translate(468.96,1841.70) rotate(-90) scale(1,1.05)" text-anchor="end" class="xl">TTN</text>
<rect x="475.89" y="1823.75" width="1.1" height="4.5" fill="#333"/>
<text transform="translate(481.19,1841.70) rotate(-90) scale(1,1.05)" text-anchor="end" class="xl">chr7:61 Mbp</text>
<rect x="488.13" y="1823.75" width="1.1" height="4.5" fill="#333"/>
<text transform="translate(493.43,1841.70) rotate(-90) scale(1,1.05)" text-anchor="end" class="xl">MUC16</text>
<rect x="500.37" y="1823.75" width="1.1" height="4.5" fill="#333"/>
<text transform="translate(505.67,1841.70) rotate(-90) scale(1,1.05)" text-anchor="end" class="xl">MSH6</text>
<rect x="512.60" y="1823.75" width="1.1" height="4.5" fill="#333"/>
<text transform="translate(517.90,1841.70) rotate(-90) scale(1,1.05)" text-anchor="end" class="xl">chr10:89 Mbp</text>
<rect x="524.84" y="1823.75" width="1.1" height="4.5" fill="#333"/>
<text transform="translate(530.14,1841.70) rotate(-90) scale(1,1.05)" text-anchor="end" class="xl">AR</text>
<rect x="537.07" y="1823.75" width="1.1" height="4.5" fill="#333"/>
<text transform="translate(542.37,1841.70) rotate(-90) scale(1,1.05)" text-anchor="end" class="xl">TP53</text>
<rect x="549.31" y="1823.75" width="1.1" height="4.5" fill="#333"/>
<text transform="translate(554.61,1841.70) rotate(-90) scale(1,1.05)" text-anchor="end" class="xl">MSH2</text>
<rect x="561.55" y="1823.75" width="1.1" height="4.5" fill="#333"/>
<text transform="translate(566.85,1841.70) rotate(-90) scale(1,1.05)" text-anchor="end" class="xl">ETV1</text>
<rect x="573.78" y="1823.75" width="1.1" height="4.5" fill="#333"/>
<text transform="translate(579.08,1841.70) rotate(-90) scale(1,1.05)" text-anchor="end" class="xl">ZNRF3</text>
<rect x="586.02" y="1823.75" width="1.1" height="4.5" fill="#333"/>
<text transform="translate(591.32,1841.70) rotate(-90) scale(1,1.05)" text-anchor="end" class="xl">BRCA1</text>
<rect x="598.25" y="1823.75" width="1.1" height="4.5" fill="#333"/>
<text transform="translate(603.55,1841.70) rotate(-90) scale(1,1.05)" text-anchor="end" class="xl">SYNE1</text>
<rect x="610.49" y="1823.75" width="1.1" height="4.5" fill="#333"/>
<text transform="translate(615.79,1841.70) rotate(-90) scale(1,1.05)" text-anchor="end" class="xl">chr17:25 Mbp</text>
<rect x="622.73" y="1823.75" width="1.1" height="4.5" fill="#333"/>
<text transform="translate(628.03,1841.70) rotate(-90) scale(1,1.05)" text-anchor="end" class="xl">ASXL2</text>
<rect x="634.96" y="1823.75" width="1.1" height="4.5" fill="#333"/>
<text transform="translate(640.26,1841.70) rotate(-90) scale(1,1.05)" text-anchor="end" class="xl">CSMD3</text>
<rect x="647.20" y="1823.75" width="1.1" height="4.5" fill="#333"/>
<text transform="translate(652.50,1841.70) rotate(-90) scale(1,1.05)" text-anchor="end" class="xl">FOXA1</text>
<rect x="659.43" y="1823.75" width="1.1" height="4.5" fill="#333"/>
<text transform="translate(664.73,1841.70) rotate(-90) scale(1,1.05)" text-anchor="end" class="xl">CDK12</text>
<rect x="671.67" y="1823.75" width="1.1" height="4.5" fill="#333"/>
<text transform="translate(676.97,1841.70) rotate(-90) scale(1,1.05)" text-anchor="end" class="xl">HDAC4</text>
<rect x="683.91" y="1823.75" width="1.1" height="4.5" fill="#333"/>
<text transform="translate(689.21,1841.70) rotate(-90) scale(1,1.05)" text-anchor="end" class="xl">KMT2C</text>
<rect x="696.14" y="1823.75" width="1.1" height="4.5" fill="#333"/>
<text transform="translate(701.44,1841.70) rotate(-90) scale(1,1.05)" text-anchor="end" class="xl">AHNAK2</text>
<rect x="708.38" y="1823.75" width="1.1" height="4.5" fill="#333"/>
<text transform="translate(713.68,1841.70) rotate(-90) scale(1,1.05)" text-anchor="end" class="xl">HDAC4</text>
<rect x="720.61" y="1823.75" width="1.1" height="4.5" fill="#333"/>
<text transform="translate(725.91,1841.70) rotate(-90) scale(1,1.05)" text-anchor="end" class="xl">APC</text>
<rect x="732.85" y="1823.75" width="1.1" height="4.5" fill="#333"/>
<text transform="translate(738.15,1841.70) rotate(-90) scale(1,1.05)" text-anchor="end" class="xl">BRCA2</text>
<rect x="745.09" y="1823.75" width="1.1" height="4.5" fill="#333"/>
<text transform="translate(750.39,1841.70) rotate(-90) scale(1,1.05)" text-anchor="end" class="xl">KMT2D</text>
<rect x="757.32" y="1823.75" width="1.1" height="4.5" fill="#333"/>
<text transform="translate(762.62,1841.70) rotate(-90) scale(1,1.05)" text-anchor="end" class="xl">ASXL2</text>
<rect x="769.56" y="1823.75" width="1.1" height="4.5" fill="#333"/>
<text transform="translate(774.86,1841.70) rotate(-90) scale(1,1.05)" text-anchor="end" class="xl">PTEN</text>
<rect x="781.79" y="1823.75" width="1.1" height="4.5" fill="#333"/>
<text transform="translate(787.09,1841.70) rotate(-90) scale(1,1.05)" text-anchor="end" class="xl">ATM</text>
<rect x="794.03" y="1823.75" width="1.1" height="4.5" fill="#333"/>
<text transform="translate(799.33,1841.70) rotate(-90) scale(1,1.05)" text-anchor="end" class="xl">ETV4</text>
<rect x="806.27" y="1823.75" width="1.1" height="4.5" fill="#333"/>
<text transform="translate(811.57,1841.70) rotate(-90) scale(1,1.05)" text-anchor="end" class="xl">KDM6A</text>
<rect x="818.50" y="1823.75" width="1.1" height="4.5" fill="#333"/>
<text transform="translate(823.80,1841.70) rotate(-90) scale(1,1.05)" text-anchor="end" class="xl">FOXA1</text>
<rect x="830.74" y="1823.75" width="1.1" height="4.5" fill="#333"/>
<text transform="translate(836.04,1841.70) rotate(-90) scale(1,1.05)" text-anchor="end" class="xl">SPOP</text>
<rect x="842.97" y="1823.75" width="1.1" height="4.5" fill="#333"/>
<text transform="translate(848.27,1841.70) rotate(-90) scale(1,1.05)" text-anchor="end" class="xl">RYR2</text>
<rect x="855.21" y="1823.75" width="1.1" height="4.5" fill="#333"/>
<text transform="translate(860.51,1841.70) rotate(-90) scale(1,1.05)" text-anchor="end" class="xl">ATM</text>
<rect x="867.45" y="1823.75" width="1.1" height="4.5" fill="#333"/>
<text transform="translate(872.75,1841.70) rotate(-90) scale(1,1.05)" text-anchor="end" class="xl">FAT3</text>
<rect x="879.68" y="1823.75" width="1.1" height="4.5" fill="#333"/>
<text transform="translate(884.98,1841.70) rotate(-90) scale(1,1.05)" text-anchor="end" class="xl">ZFHX3</text>
<rect x="891.92" y="1823.75" width="1.1" height="4.5" fill="#333"/>
<text transform="translate(897.22,1841.70) rotate(-90) scale(1,1.05)" text-anchor="end" class="xl">PRKDC</text>
<rect x="904.15" y="1823.75" width="1.1" height="4.5" fill="#333"/>
<text transform="translate(909.45,1841.70) rotate(-90) scale(1,1.05)" text-anchor="end" class="xl">NCOR1</text>
<rect x="916.39" y="1823.75" width="1.1" height="4.5" fill="#333"/>
<text transform="translate(921.69,1841.70) rotate(-90) scale(1,1.05)" text-anchor="end" class="xl">KDM6A</text>
<rect x="928.63" y="1823.75" width="1.1" height="4.5" fill="#333"/>
<text transform="translate(933.93,1841.70) rotate(-90) scale(1,1.05)" text-anchor="end" class="xl">CTNNB1</text>
<rect x="940.86" y="1823.75" width="1.1" height="4.5" fill="#333"/>
<text transform="translate(946.16,1841.70) rotate(-90) scale(1,1.05)" text-anchor="end" class="xl">RB1</text>
<rect x="953.10" y="1823.75" width="1.1" height="4.5" fill="#333"/>
<text transform="translate(958.40,1841.70) rotate(-90) scale(1,1.05)" text-anchor="end" class="xl">RB1</text>
<rect x="965.33" y="1823.75" width="1.1" height="4.5" fill="#333"/>
<text transform="translate(970.63,1841.70) rotate(-90) scale(1,1.05)" text-anchor="end" class="xl">SPTA1</text>
<rect x="977.57" y="1823.75" width="1.1" height="4.5" fill="#333"/>
<text transform="translate(982.87,1841.70) rotate(-90) scale(1,1.05)" text-anchor="end" class="xl">PRKDC</text>
<rect x="989.81" y="1823.75" width="1.1" height="4.5" fill="#333"/>
<text transform="translate(995.11,1841.70) rotate(-90) scale(1,1.05)" text-anchor="end" class="xl">PCDH15</text>
<rect x="1002.04" y="1823.75" width="1.1" height="4.5" fill="#333"/>
<text transform="translate(1007.34,1841.70) rotate(-90) scale(1,1.05)" text-anchor="end" class="xl">chr4:148 Mbp</text>
<rect x="1014.28" y="1823.75" width="1.1" height="4.5" fill="#333"/>
<text transform="translate(1019.58,1841.70) rotate(-90) scale(1,1.05)" text-anchor="end" class="xl">GNAS</text>
<rect x="1026.51" y="1823.75" width="1.1" height="4.5" fill="#333"/>
<text transform="translate(1031.81,1841.70) rotate(-90) scale(1,1.05)" text-anchor="end" class="xl">QRICH2</text>
<rect x="1038.75" y="1823.75" width="1.1" height="4.5" fill="#333"/>
<text transform="translate(1044.05,1841.70) rotate(-90) scale(1,1.05)" text-anchor="end" class="xl">MED12</text>
<rect x="1050.99" y="1823.75" width="1.1" height="4.5" fill="#333"/>
<text transform="translate(1056.29,1841.70) rotate(-90) scale(1,1.05)" text-anchor="end" class="xl">NCOR2</text>
<rect x="1063.22" y="1823.75" width="1.1" height="4.5" fill="#333"/>
<text transform="translate(1068.52,1841.70) rotate(-90) scale(1,1.05)" text-anchor="end" class="xl">NCOR1</text>
<rect x="1075.46" y="1823.75" width="1.1" height="4.5" fill="#333"/>
<text transform="translate(1080.76,1841.70) rotate(-90) scale(1,1.05)" text-anchor="end" class="xl">ASXL2</text>
<rect x="1087.69" y="1823.75" width="1.1" height="4.5" fill="#333"/>
<text transform="translate(1092.99,1841.70) rotate(-90) scale(1,1.05)" text-anchor="end" class="xl">ADAMTS20</text>
<rect x="1099.93" y="1823.75" width="1.1" height="4.5" fill="#333"/>
<text transform="translate(1105.23,1841.70) rotate(-90) scale(1,1.05)" text-anchor="end" class="xl">KDM6A</text>
<rect x="1112.17" y="1823.75" width="1.1" height="4.5" fill="#333"/>
<text transform="translate(1117.47,1841.70) rotate(-90) scale(1,1.05)" text-anchor="end" class="xl">CHD1</text>
<rect x="1124.40" y="1823.75" width="1.1" height="4.5" fill="#333"/>
<text transform="translate(1129.70,1841.70) rotate(-90) scale(1,1.05)" text-anchor="end" class="xl">NKX3-1</text>
<rect x="1136.64" y="1823.75" width="1.1" height="4.5" fill="#333"/>
<text transform="translate(1141.94,1841.70) rotate(-90) scale(1,1.05)" text-anchor="end" class="xl">chr3:129 Mbp</text>
<rect x="1148.87" y="1823.75" width="1.1" height="4.5" fill="#333"/>
<text transform="translate(1154.17,1841.70) rotate(-90) scale(1,1.05)" text-anchor="end" class="xl">MYC</text>
<rect x="1161.11" y="1823.75" width="1.1" height="4.5" fill="#333"/>
<text transform="translate(1166.41,1841.70) rotate(-90) scale(1,1.05)" text-anchor="end" class="xl">BRAF</text>
<rect x="1173.35" y="1823.75" width="1.1" height="4.5" fill="#333"/>
<text transform="translate(1178.65,1841.70) rotate(-90) scale(1,1.05)" text-anchor="end" class="xl">ETV5</text>
<rect x="1185.58" y="1823.75" width="1.1" height="4.5" fill="#333"/>
<text transform="translate(1190.88,1841.70) rotate(-90) scale(1,1.05)" text-anchor="end" class="xl">CDKN2A</text>
<rect x="1197.82" y="1823.75" width="1.1" height="4.5" fill="#333"/>
<text transform="translate(1203.12,1841.70) rotate(-90) scale(1,1.05)" text-anchor="end" class="xl">BRCA1</text>
<rect x="1210.05" y="1823.75" width="1.1" height="4.5" fill="#333"/>
<text transform="translate(1215.35,1841.70) rotate(-90) scale(1,1.05)" text-anchor="end" class="xl">TPTE</text>
<rect x="1222.29" y="1823.75" width="1.1" height="4.5" fill="#333"/>
<text transform="translate(1227.59,1841.70) rotate(-90) scale(1,1.05)" text-anchor="end" class="xl">MSH2</text>
<rect x="1234.53" y="1823.75" width="1.1" height="4.5" fill="#333"/>
<text transform="translate(1239.83,1841.70) rotate(-90) scale(1,1.05)" text-anchor="end" class="xl">PRB4</text>
<rect x="1246.76" y="1823.75" width="1.1" height="4.5" fill="#333"/>
<text transform="translate(1252.06,1841.70) rotate(-90) scale(1,1.05)" text-anchor="end" class="xl">MSH6</text>
<rect x="1259.00" y="1823.75" width="1.1" height="4.5" fill="#333"/>
<text transform="translate(1264.30,1841.70) rotate(-90) scale(1,1.05)" text-anchor="end" class="xl">BRAF</text>
<rect x="1271.23" y="1823.75" width="1.1" height="4.5" fill="#333"/>
<text transform="translate(1276.53,1841.70) rotate(-90) scale(1,1.05)" text-anchor="end" class="xl">AKT1</text>
<rect x="1283.47" y="1823.75" width="1.1" height="4.5" fill="#333"/>
<text transform="translate(1288.77,1841.70) rotate(-90) scale(1,1.05)" text-anchor="end" class="xl">chr3:125 Mbp</text>
<rect x="1295.71" y="1823.75" width="1.1" height="4.5" fill="#333"/>
<text transform="translate(1301.01,1841.70) rotate(-90) scale(1,1.05)" text-anchor="end" class="xl">chr6:97 Mbp</text>
<rect x="1307.94" y="1823.75" width="1.1" height="4.5" fill="#333"/>
<text transform="translate(1313.24,1841.70) rotate(-90) scale(1,1.05)" text-anchor="end" class="xl">PIK3CA</text>
<rect x="1320.18" y="1823.75" width="1.1" height="4.5" fill="#333"/>
<text transform="translate(1325.48,1841.70) rotate(-90) scale(1,1.05)" text-anchor="end" class="xl">chr4:39684557</text>
<rect x="1332.41" y="1823.75" width="1.1" height="4.5" fill="#333"/>
<text transform="translate(1337.71,1841.70) rotate(-90) scale(1,1.05)" text-anchor="end" class="xl">ERCC2</text>
<rect x="1344.65" y="1823.75" width="1.1" height="4.5" fill="#333"/>
<text transform="translate(1349.95,1841.70) rotate(-90) scale(1,1.05)" text-anchor="end" class="xl">MSH2</text>
<rect x="1356.89" y="1823.75" width="1.1" height="4.5" fill="#333"/>
<text transform="translate(1362.19,1841.70) rotate(-90) scale(1,1.05)" text-anchor="end" class="xl">AXL</text>
<rect x="1369.12" y="1823.75" width="1.1" height="4.5" fill="#333"/>
<text transform="translate(1374.42,1841.70) rotate(-90) scale(1,1.05)" text-anchor="end" class="xl">MED12</text>
<rect x="1381.36" y="1823.75" width="1.1" height="4.5" fill="#333"/>
<text transform="translate(1386.66,1841.70) rotate(-90) scale(1,1.05)" text-anchor="end" class="xl">HRAS</text>
<rect x="1393.59" y="1823.75" width="1.1" height="4.5" fill="#333"/>
<text transform="translate(1398.89,1841.70) rotate(-90) scale(1,1.05)" text-anchor="end" class="xl">MLH1</text>
<rect x="1405.83" y="1823.75" width="1.1" height="4.5" fill="#333"/>
<text transform="translate(1411.13,1841.70) rotate(-90) scale(1,1.05)" text-anchor="end" class="xl">ERCC2</text>
<rect x="1418.07" y="1823.75" width="1.1" height="4.5" fill="#333"/>
<text transform="translate(1423.37,1841.70) rotate(-90) scale(1,1.05)" text-anchor="end" class="xl">CDKN2A</text>
<rect x="1430.30" y="1823.75" width="1.1" height="4.5" fill="#333"/>
<text transform="translate(1435.60,1841.70) rotate(-90) scale(1,1.05)" text-anchor="end" class="xl">IDH1</text>
<rect x="1442.54" y="1823.75" width="1.1" height="4.5" fill="#333"/>
<text transform="translate(1447.84,1841.70) rotate(-90) scale(1,1.05)" text-anchor="end" class="xl">chr7:145019604</text>
<rect x="1454.77" y="1823.75" width="1.1" height="4.5" fill="#333"/>
<text transform="translate(1460.07,1841.70) rotate(-90) scale(1,1.05)" text-anchor="end" class="xl">chr22:31826396</text>
<rect x="1467.01" y="1823.75" width="1.1" height="4.5" fill="#333"/>
<text transform="translate(1472.31,1841.70) rotate(-90) scale(1,1.05)" text-anchor="end" class="xl">chr13:58055742</text>
<rect x="1479.25" y="1823.75" width="1.1" height="4.5" fill="#333"/>
<text transform="translate(1484.55,1841.70) rotate(-90) scale(1,1.05)" text-anchor="end" class="xl">chr16:64910033</text>
<rect x="1491.48" y="1823.75" width="1.1" height="4.5" fill="#333"/>
<text transform="translate(1496.78,1841.70) rotate(-90) scale(1,1.05)" text-anchor="end" class="xl">chr2:131394079</text>
<text transform="translate(114.2,1008.60) scale(1,1.035)" class="ti">Metastatic Prostate Cancer</text>
<text transform="translate(36,1424.40) rotate(-90) scale(1,1.03)" text-anchor="middle" class="yl">Proportion of Patients</text>
<text transform="translate(1222.1,1415.00) scale(1,1.02)" text-anchor="middle" class="lt">MUTATION CLASS</text>
<rect x="1025.7" y="1457.80" width="21.5" height="21.4" fill="#7630e6"/>
<text transform="translate(1064.0,1477.10) scale(1,1.03)" class="lg">Genomic Gain</text>
<rect x="1025.7" y="1481.30" width="21.5" height="21.4" fill="#ffbfcb"/>
<text transform="translate(1064.0,1500.60) scale(1,1.03)" class="lg">Genomic Loss</text>
<rect x="1025.7" y="1504.80" width="21.5" height="21.4" fill="#ff2200"/>
<text transform="translate(1064.0,1524.10) scale(1,1.03)" class="lg">Inter-chromosomal translocation</text>
<rect x="1025.7" y="1528.30" width="21.5" height="21.4" fill="#0433ff"/>
<text transform="translate(1064.0,1547.60) scale(1,1.03)" class="lg">Inversion</text>
<rect x="1025.7" y="1551.80" width="21.5" height="21.4" fill="#458900"/>
<text transform="translate(1064.0,1571.10) scale(1,1.03)" class="lg">Non-coding SNV</text>
<rect x="1025.7" y="1575.30" width="21.5" height="21.4" fill="#ffa500"/>
<text transform="translate(1064.0,1594.60) scale(1,1.03)" class="lg">Non-synonymous</text>
<rect x="1025.7" y="1598.80" width="21.5" height="21.4" fill="#104e8b"/>
<text transform="translate(1064.0,1618.10) scale(1,1.03)" class="lg">SV</text>
</svg></body></html>
